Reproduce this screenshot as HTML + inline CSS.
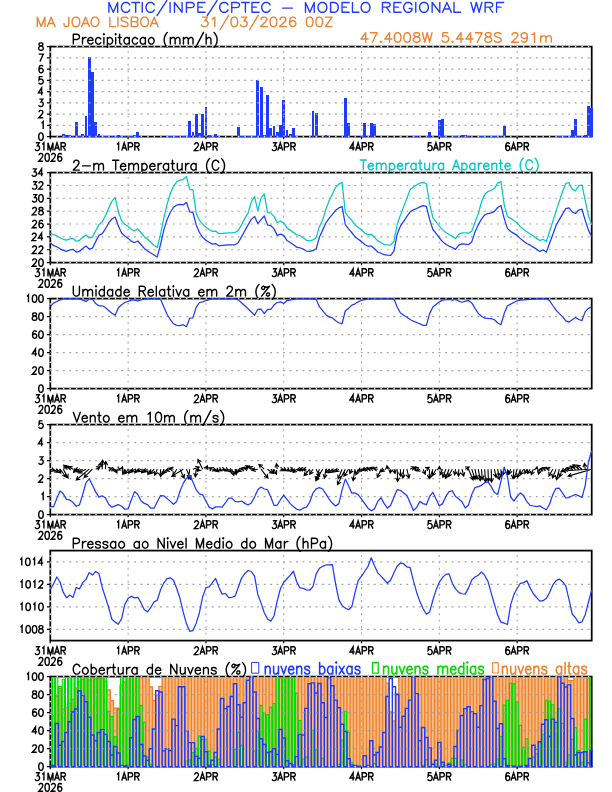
<!DOCTYPE html>
<html><head><meta charset="utf-8"><title>Meteograma WRF</title><style>html,body{margin:0;padding:0;background:#fff;font-family:"Liberation Sans",sans-serif}svg{display:block}</style></head><body><svg width="612" height="792" viewBox="0 0 612 792">
<rect width="612" height="792" fill="#fff"/>
<defs>
<clipPath id="c0"><rect x="49.3" y="45.6" width="543.71" height="92.2"/></clipPath>
<clipPath id="c1"><rect x="49.3" y="171.6" width="543.71" height="92.2"/></clipPath>
<clipPath id="c2"><rect x="49.3" y="297.6" width="543.71" height="92.2"/></clipPath>
<clipPath id="c3"><rect x="49.3" y="423.6" width="543.71" height="92.2"/></clipPath>
<clipPath id="c4"><rect x="49.3" y="549.6" width="543.71" height="92.2"/></clipPath>
<clipPath id="c5"><rect x="49.3" y="675.6" width="543.71" height="92.2"/></clipPath>
<clipPath id="c6"><rect x="51.2" y="677.5" width="539.61" height="89.3"/></clipPath>
</defs>
<g fill="none" stroke-linecap="round" stroke-linejoin="round">
<path d="M108.92 12.3 108.92 2.49 113.29 12.3 117.66 2.49 117.66 12.3M129.67 4.83 129.12 3.89 128.03 2.96 126.94 2.49 124.75 2.49 123.66 2.96 122.57 3.89 122.02 4.83 121.48 6.23 121.48 8.56 122.02 9.96 122.57 10.9 123.66 11.83 124.75 12.3 126.94 12.3 128.03 11.83 129.12 10.9 129.67 9.96M131.85 2.49 139.5 2.49M135.68 12.3 135.68 2.49M142.23 2.49 142.23 12.3M154.24 4.83 153.69 3.89 152.6 2.96 151.51 2.49 149.32 2.49 148.23 2.96 147.14 3.89 146.59 4.83 146.05 6.23 146.05 8.56 146.59 9.96 147.14 10.9 148.23 11.83 149.32 12.3 151.51 12.3 152.6 11.83 153.69 10.9 154.24 9.96M156.97 15.57 166.8 0.62M170.07 2.49 170.07 12.3M174.44 12.3 174.44 2.49 182.08 12.3 182.08 2.49M186.45 12.3 186.45 2.49 191.37 2.49 193 2.96 193.55 3.43 194.1 4.36 194.1 5.76 193.55 6.7 193 7.16 191.37 7.63 186.45 7.63M202.29 7.16 197.92 7.16 197.92 2.49 205.02 2.49M205.02 12.3 197.92 12.3 197.92 7.16M207.2 15.57 217.03 0.62M227.95 4.83 227.4 3.89 226.31 2.96 225.22 2.49 223.03 2.49 221.94 2.96 220.85 3.89 220.31 4.83 219.76 6.23 219.76 8.56 220.31 9.96 220.85 10.9 221.94 11.83 223.03 12.3 225.22 12.3 226.31 11.83 227.4 10.9 227.95 9.96M231.77 12.3 231.77 2.49 236.69 2.49 238.32 2.96 238.87 3.43 239.41 4.36 239.41 5.76 238.87 6.7 238.32 7.16 236.69 7.63 231.77 7.63M241.6 2.49 249.24 2.49M245.42 12.3 245.42 2.49M256.34 7.16 251.97 7.16 251.97 2.49 259.07 2.49M259.07 12.3 251.97 12.3 251.97 7.16M269.99 4.83 269.44 3.89 268.35 2.96 267.26 2.49 265.08 2.49 263.99 2.96 262.89 3.89 262.35 4.83 261.8 6.23 261.8 8.56 262.35 9.96 262.89 10.9 263.99 11.83 265.08 12.3 267.26 12.3 268.35 11.83 269.44 10.9 269.99 9.96M282.55 8.1 292.38 8.1M305.48 12.3 305.48 2.49 309.85 12.3 314.22 2.49 314.22 12.3M318.04 6.23 318.04 8.56 318.59 9.96 319.13 10.9 320.22 11.83 321.31 12.3 323.5 12.3 324.59 11.83 325.68 10.9 326.23 9.96 326.77 8.56 326.77 6.23 326.23 4.83 325.68 3.89 324.59 2.96 323.5 2.49 321.31 2.49 320.22 2.96 319.13 3.89 318.59 4.83 318.04 6.23M330.6 2.49 330.6 12.3 334.42 12.3 336.06 11.83 337.15 10.9 337.7 9.96 338.24 8.56 338.24 6.23 337.7 4.83 337.15 3.89 336.06 2.96 334.42 2.49 330.6 2.49M346.43 7.16 342.06 7.16 342.06 2.49 349.16 2.49M349.16 12.3 342.06 12.3 342.06 7.16M352.44 2.49 352.44 12.3 358.99 12.3M361.17 6.23 361.17 8.56 361.72 9.96 362.26 10.9 363.36 11.83 364.45 12.3 366.63 12.3 367.73 11.83 368.82 10.9 369.36 9.96 369.91 8.56 369.91 6.23 369.36 4.83 368.82 3.89 367.73 2.96 366.63 2.49 364.45 2.49 363.36 2.96 362.26 3.89 361.72 4.83 361.17 6.23M382.47 12.3 382.47 2.49 387.38 2.49 389.02 2.96 389.57 3.43 390.11 4.36 390.11 5.29 389.57 6.23 389.02 6.7 387.38 7.16 382.47 7.16M390.11 12.3 386.29 7.16M398.3 7.16 393.93 7.16 393.93 2.49 401.03 2.49M401.03 12.3 393.93 12.3 393.93 7.16M409.22 8.56 411.95 8.56 411.95 9.96 411.4 10.9 410.31 11.83 409.22 12.3 407.04 12.3 405.95 11.83 404.85 10.9 404.31 9.96 403.76 8.56 403.76 6.23 404.31 4.83 404.85 3.89 405.95 2.96 407.04 2.49 409.22 2.49 410.31 2.96 411.4 3.89 411.95 4.83M415.77 2.49 415.77 12.3M419.6 6.23 419.6 8.56 420.14 9.96 420.69 10.9 421.78 11.83 422.87 12.3 425.06 12.3 426.15 11.83 427.24 10.9 427.78 9.96 428.33 8.56 428.33 6.23 427.78 4.83 427.24 3.89 426.15 2.96 425.06 2.49 422.87 2.49 421.78 2.96 420.69 3.89 420.14 4.83 419.6 6.23M432.15 12.3 432.15 2.49 439.8 12.3 439.8 2.49M442.53 12.3 446.89 2.49 451.26 12.3M444.16 9.03 449.62 9.03M453.99 2.49 453.99 12.3 460.55 12.3M470.92 2.49 473.65 12.3 476.38 2.49 479.11 12.3 481.84 2.49M485.12 12.3 485.12 2.49 490.03 2.49 491.67 2.96 492.21 3.43 492.76 4.36 492.76 5.29 492.21 6.23 491.67 6.7 490.03 7.16 485.12 7.16M492.76 12.3 488.94 7.16M496.58 12.3 496.58 2.49 503.68 2.49M500.95 7.16 496.58 7.16" stroke="#1e3cff" stroke-width="1.4"/>
<path d="M37.3 26.6 37.3 17.15 41.12 26.6 44.93 17.15 44.93 26.6M47.32 26.6 51.13 17.15 54.95 26.6M48.75 23.45 53.52 23.45M64.01 23.45 64.01 24.35 64.49 25.7 64.97 26.15 65.92 26.6 66.87 26.6 67.83 26.15 68.3 25.7 68.78 24.35 68.78 17.15M72.12 20.75 72.12 23 72.6 24.35 73.07 25.25 74.03 26.15 74.98 26.6 76.89 26.6 77.84 26.15 78.8 25.25 79.28 24.35 79.75 23 79.75 20.75 79.28 19.4 78.8 18.5 77.84 17.6 76.89 17.15 74.98 17.15 74.03 17.6 73.07 18.5 72.6 19.4 72.12 20.75M81.66 26.6 85.48 17.15 89.29 26.6M83.09 23.45 87.86 23.45M91.2 20.75 91.2 23 91.68 24.35 92.16 25.25 93.11 26.15 94.06 26.6 95.97 26.6 96.92 26.15 97.88 25.25 98.36 24.35 98.83 23 98.83 20.75 98.36 19.4 97.88 18.5 96.92 17.6 95.97 17.15 94.06 17.15 93.11 17.6 92.16 18.5 91.68 19.4 91.2 20.75M109.8 17.15 109.8 26.6 115.53 26.6M117.91 17.15 117.91 26.6M121.25 25.25 122.21 26.15 123.64 26.6 125.54 26.6 126.98 26.15 127.93 25.25 127.93 23.9 127.45 23 126.98 22.55 126.02 22.1 123.16 21.2 122.21 20.75 121.73 20.3 121.25 19.4 121.25 18.5 122.21 17.6 123.64 17.15 125.54 17.15 126.98 17.6 127.93 18.5M131.27 17.15 131.27 26.6 135.56 26.6 136.99 26.15 137.47 25.7 137.95 24.8 137.95 23.45 137.47 22.55 136.99 22.1 135.56 21.65 131.27 21.65M131.27 17.15 135.56 17.15 136.99 17.6 137.47 18.05 137.95 18.95 137.95 19.85 137.47 20.75 136.99 21.2 135.56 21.65M140.81 20.75 140.81 23 141.29 24.35 141.76 25.25 142.72 26.15 143.67 26.6 145.58 26.6 146.53 26.15 147.49 25.25 147.96 24.35 148.44 23 148.44 20.75 147.96 19.4 147.49 18.5 146.53 17.6 145.58 17.15 143.67 17.15 142.72 17.6 141.76 18.5 141.29 19.4 140.81 20.75M150.35 26.6 154.16 17.15 157.98 26.6M151.78 23.45 156.55 23.45" stroke="#f0822d" stroke-width="1.4"/>
<path d="M201.4 24.8 201.88 25.7 202.35 26.15 203.78 26.6 205.22 26.6 206.65 26.15 207.6 25.25 208.08 23.9 208.08 23 207.6 21.65 207.12 21.2 206.17 20.75 204.74 20.75 207.6 17.15 202.35 17.15M212.37 18.95 213.32 18.5 214.76 17.15 214.76 26.6M220 29.75 228.59 15.35M230.97 21.2 230.97 22.55 231.45 24.8 232.41 26.15 233.84 26.6 234.79 26.6 236.22 26.15 237.17 24.8 237.65 22.55 237.65 21.2 237.17 18.95 236.22 17.6 234.79 17.15 233.84 17.15 232.41 17.6 231.45 18.95 230.97 21.2M240.51 24.8 240.99 25.7 241.47 26.15 242.9 26.6 244.33 26.6 245.76 26.15 246.71 25.25 247.19 23.9 247.19 23 246.71 21.65 246.24 21.2 245.28 20.75 243.85 20.75 246.71 17.15 241.47 17.15M249.58 29.75 258.16 15.35M261.02 19.4 261.02 18.95 261.5 18.05 261.98 17.6 262.93 17.15 264.84 17.15 265.79 17.6 266.27 18.05 266.75 18.95 266.75 19.85 266.27 20.75 265.32 22.1 260.55 26.6 267.23 26.6M270.09 21.2 270.09 22.55 270.56 24.8 271.52 26.15 272.95 26.6 273.9 26.6 275.33 26.15 276.29 24.8 276.77 22.55 276.77 21.2 276.29 18.95 275.33 17.6 273.9 17.15 272.95 17.15 271.52 17.6 270.56 18.95 270.09 21.2M280.11 19.4 280.11 18.95 280.58 18.05 281.06 17.6 282.01 17.15 283.92 17.15 284.88 17.6 285.35 18.05 285.83 18.95 285.83 19.85 285.35 20.75 284.4 22.1 279.63 26.6 286.31 26.6M295.37 18.5 294.89 17.6 293.46 17.15 292.51 17.15 291.08 17.6 290.12 18.95 289.64 21.2 289.64 23.45 290.12 25.25 291.08 26.15 292.51 26.6 292.98 26.6 294.41 26.15 295.37 25.25 295.85 23.9 295.85 23.45 295.37 22.1 294.41 21.2 292.98 20.75 292.51 20.75 291.08 21.2 290.12 22.1 289.64 23.45M306.34 21.2 306.34 22.55 306.82 24.8 307.77 26.15 309.2 26.6 310.16 26.6 311.59 26.15 312.54 24.8 313.02 22.55 313.02 21.2 312.54 18.95 311.59 17.6 310.16 17.15 309.2 17.15 307.77 17.6 306.82 18.95 306.34 21.2M315.88 21.2 315.88 22.55 316.36 24.8 317.31 26.15 318.74 26.6 319.7 26.6 321.13 26.15 322.08 24.8 322.56 22.55 322.56 21.2 322.08 18.95 321.13 17.6 319.7 17.15 318.74 17.15 317.31 17.6 316.36 18.95 315.88 21.2M325.42 17.15 332.1 17.15 325.42 26.6 332.1 26.6" stroke="#f0822d" stroke-width="1.4"/>
<path d="M365.67 42.2 365.67 32.75 360.9 39.05 368.06 39.05M370.44 32.75 377.12 32.75 372.35 42.2M380.46 41.75 380.93 41.3 381.41 41.75 380.93 42.2 380.46 41.75M389.52 42.2 389.52 32.75 384.75 39.05 391.9 39.05M394.29 36.8 394.29 38.15 394.77 40.4 395.72 41.75 397.15 42.2 398.11 42.2 399.54 41.75 400.49 40.4 400.97 38.15 400.97 36.8 400.49 34.55 399.54 33.2 398.11 32.75 397.15 32.75 395.72 33.2 394.77 34.55 394.29 36.8M403.83 36.8 403.83 38.15 404.31 40.4 405.26 41.75 406.69 42.2 407.65 42.2 409.08 41.75 410.03 40.4 410.51 38.15 410.51 36.8 410.03 34.55 409.08 33.2 407.65 32.75 406.69 32.75 405.26 33.2 404.31 34.55 403.83 36.8M413.37 39.05 413.37 40.4 413.85 41.3 414.32 41.75 415.75 42.2 417.66 42.2 419.09 41.75 419.57 41.3 420.05 40.4 420.05 39.05 419.57 38.15 418.62 37.25 417.19 36.8 415.28 36.35 414.32 35.9 413.85 35 413.85 34.1 414.32 33.2 415.75 32.75 417.66 32.75 419.09 33.2 419.57 34.1 419.57 35 419.09 35.9 418.14 36.35 416.23 36.8 414.8 37.25 413.85 38.15 413.37 39.05M422.43 32.75 424.82 42.2 427.2 32.75 429.59 42.2 431.97 32.75M441.99 40.4 442.47 41.3 442.94 41.75 444.38 42.2 445.81 42.2 447.24 41.75 448.19 40.85 448.67 39.5 448.67 38.6 448.19 37.25 447.24 36.35 445.81 35.9 444.38 35.9 442.94 36.35 442.47 36.8 442.94 32.75 447.71 32.75M452.01 41.75 452.48 41.3 452.96 41.75 452.48 42.2 452.01 41.75M461.07 42.2 461.07 32.75 456.3 39.05 463.45 39.05M470.61 42.2 470.61 32.75 465.84 39.05 473 39.05M475.38 32.75 482.06 32.75 477.29 42.2M484.92 39.05 484.92 40.4 485.4 41.3 485.87 41.75 487.31 42.2 489.21 42.2 490.64 41.75 491.12 41.3 491.6 40.4 491.6 39.05 491.12 38.15 490.17 37.25 488.74 36.8 486.83 36.35 485.87 35.9 485.4 35 485.4 34.1 485.87 33.2 487.31 32.75 489.21 32.75 490.64 33.2 491.12 34.1 491.12 35 490.64 35.9 489.69 36.35 487.78 36.8 486.35 37.25 485.4 38.15 484.92 39.05M494.46 40.85 495.41 41.75 496.85 42.2 498.75 42.2 500.18 41.75 501.14 40.85 501.14 39.5 500.66 38.6 500.18 38.15 499.23 37.7 496.37 36.8 495.41 36.35 494.94 35.9 494.46 35 494.46 34.1 495.41 33.2 496.85 32.75 498.75 32.75 500.18 33.2 501.14 34.1M512.11 35 512.11 34.55 512.59 33.65 513.06 33.2 514.02 32.75 515.92 32.75 516.88 33.2 517.36 33.65 517.83 34.55 517.83 35.45 517.36 36.35 516.4 37.7 511.63 42.2 518.31 42.2M521.65 40.85 522.13 41.75 523.56 42.2 524.51 42.2 525.94 41.75 526.9 40.4 527.37 38.15 527.37 35.9 526.9 34.1 525.94 33.2 524.51 32.75 524.03 32.75 522.6 33.2 521.65 34.1 521.17 35.45 521.17 35.9 521.65 37.25 522.6 38.15 524.03 38.6 524.51 38.6 525.94 38.15 526.9 37.25 527.37 35.9M532.14 34.55 533.1 34.1 534.53 32.75 534.53 42.2M540.73 35.9 540.73 42.2M545.98 42.2 545.98 37.7 545.5 36.35 544.54 35.9 543.11 35.9 542.16 36.35 540.73 37.7M551.22 42.2 551.22 37.7 550.75 36.35 549.79 35.9 548.36 35.9 547.41 36.35 545.98 37.7" stroke="#f0822d" stroke-width="1.4"/>
<path d="M73.3 44.1 73.3 34.29 77.23 34.29 78.54 34.76 78.98 35.23 79.42 36.16 79.42 37.56 78.98 38.5 78.54 38.96 77.23 39.43 73.3 39.43M82.48 37.56 82.48 44.1M85.97 37.56 84.66 37.56 83.79 38.03 82.91 38.96 82.48 40.36M92.96 42.7 92.09 43.63 91.22 44.1 89.91 44.1 89.03 43.63 88.16 42.7 87.72 41.3 87.72 40.36 88.16 38.96 89.03 38.03 89.91 37.56 91.22 37.56 92.09 38.03 92.53 38.5 92.96 39.43 92.96 40.36 87.72 40.36M100.83 38.96 99.96 38.03 99.08 37.56 97.77 37.56 96.9 38.03 96.02 38.96 95.59 40.36 95.59 41.3 96.02 42.7 96.9 43.63 97.77 44.1 99.08 44.1 99.96 43.63 100.83 42.7M103.89 37.56 103.89 44.1M103.45 34.29 103.89 33.83 104.33 34.29 103.89 34.76 103.45 34.29M107.39 37.56 107.39 47.37M107.39 38.96 108.26 38.03 109.13 37.56 110.44 37.56 111.32 38.03 112.19 38.96 112.63 40.36 112.63 41.3 112.19 42.7 111.32 43.63 110.44 44.1 109.13 44.1 108.26 43.63 107.39 42.7M115.69 37.56 115.69 44.1M115.25 34.29 115.69 33.83 116.13 34.29 115.69 34.76 115.25 34.29M118.31 37.56 121.37 37.56M119.62 34.29 119.62 42.23 120.06 43.63 120.93 44.1 121.81 44.1M129.24 37.56 129.24 44.1M123.99 40.36 123.99 41.3 124.43 42.7 125.3 43.63 126.18 44.1 127.49 44.1 128.36 43.63 129.24 42.7M123.99 40.36 124.43 38.96 125.3 38.03 126.18 37.56 127.49 37.56 128.36 38.03 129.24 38.96M137.54 38.96 136.66 38.03 135.79 37.56 134.48 37.56 133.61 38.03 132.73 38.96 132.29 40.36 132.29 41.3 132.73 42.7 133.61 43.63 134.48 44.1 135.79 44.1 136.66 43.63 137.54 42.7M145.4 37.56 145.4 44.1M140.16 40.36 140.16 41.3 140.6 42.7 141.47 43.63 142.35 44.1 143.66 44.1 144.53 43.63 145.4 42.7M140.16 40.36 140.6 38.96 141.47 38.03 142.35 37.56 143.66 37.56 144.53 38.03 145.4 38.96M148.46 40.36 148.46 41.3 148.9 42.7 149.77 43.63 150.65 44.1 151.96 44.1 152.83 43.63 153.71 42.7 154.14 41.3 154.14 40.36 153.71 38.96 152.83 38.03 151.96 37.56 150.65 37.56 149.77 38.03 148.9 38.96 148.46 40.36M167.25 32.42 166.38 33.36 165.51 34.76 164.63 36.63 164.2 38.96 164.2 40.83 164.63 43.17 165.51 45.03 166.38 46.44 167.25 47.37M170.31 37.56 170.31 44.1M175.12 44.1 175.12 39.43 174.68 38.03 173.81 37.56 172.5 37.56 171.62 38.03 170.31 39.43M179.93 44.1 179.93 39.43 179.49 38.03 178.62 37.56 177.31 37.56 176.43 38.03 175.12 39.43M183.42 37.56 183.42 44.1M188.23 44.1 188.23 39.43 187.79 38.03 186.92 37.56 185.61 37.56 184.74 38.03 183.42 39.43M193.04 44.1 193.04 39.43 192.6 38.03 191.73 37.56 190.42 37.56 189.54 38.03 188.23 39.43M195.66 47.37 203.53 32.42M206.15 34.29 206.15 44.1M210.95 44.1 210.95 39.43 210.52 38.03 209.64 37.56 208.33 37.56 207.46 38.03 206.15 39.43M214.01 32.42 214.89 33.36 215.76 34.76 216.64 36.63 217.07 38.96 217.07 40.83 216.64 43.17 215.76 45.03 214.89 46.44 214.01 47.37" stroke="#000" stroke-width="1.4"/>
<path d="M73.74 162.63 73.74 162.16 74.17 161.23 74.61 160.76 75.48 160.29 77.23 160.29 78.11 160.76 78.54 161.23 78.98 162.16 78.98 163.09 78.54 164.03 77.67 165.43 73.3 170.1 79.42 170.1M82.48 165.9 90.34 165.9M93.84 163.56 93.84 170.1M98.65 170.1 98.65 165.43 98.21 164.03 97.34 163.56 96.02 163.56 95.15 164.03 93.84 165.43M103.45 170.1 103.45 165.43 103.02 164.03 102.14 163.56 100.83 163.56 99.96 164.03 98.65 165.43M112.63 160.29 118.75 160.29M115.69 170.1 115.69 160.29M125.74 168.7 124.87 169.63 123.99 170.1 122.68 170.1 121.81 169.63 120.93 168.7 120.5 167.3 120.5 166.36 120.93 164.96 121.81 164.03 122.68 163.56 123.99 163.56 124.87 164.03 125.3 164.5 125.74 165.43 125.74 166.36 120.5 166.36M128.8 163.56 128.8 170.1M133.61 170.1 133.61 165.43 133.17 164.03 132.3 163.56 130.98 163.56 130.11 164.03 128.8 165.43M138.41 170.1 138.41 165.43 137.98 164.03 137.1 163.56 135.79 163.56 134.92 164.03 133.61 165.43M141.91 163.56 141.91 173.37M141.91 164.96 142.78 164.03 143.66 163.56 144.97 163.56 145.84 164.03 146.72 164.96 147.15 166.36 147.15 167.3 146.72 168.7 145.84 169.63 144.97 170.1 143.66 170.1 142.78 169.63 141.91 168.7M155.02 168.7 154.15 169.63 153.27 170.1 151.96 170.1 151.09 169.63 150.21 168.7 149.78 167.3 149.78 166.36 150.21 164.96 151.09 164.03 151.96 163.56 153.27 163.56 154.15 164.03 154.58 164.5 155.02 165.43 155.02 166.36 149.78 166.36M158.08 163.56 158.08 170.1M161.57 163.56 160.26 163.56 159.39 164.03 158.51 164.96 158.08 166.36M168.57 163.56 168.57 170.1M163.32 166.36 163.32 167.3 163.76 168.7 164.63 169.63 165.51 170.1 166.82 170.1 167.69 169.63 168.57 168.7M163.32 166.36 163.76 164.96 164.63 164.03 165.51 163.56 166.82 163.56 167.69 164.03 168.57 164.96M171.19 163.56 174.25 163.56M172.5 160.29 172.5 168.23 172.94 169.63 173.81 170.1 174.68 170.1M177.31 163.56 177.31 168.23 177.74 169.63 178.62 170.1 179.93 170.1 180.8 169.63 182.11 168.23 182.11 163.56M182.11 170.1 182.11 168.23M185.61 163.56 185.61 170.1M189.11 163.56 187.79 163.56 186.92 164.03 186.05 164.96 185.61 166.36M196.1 163.56 196.1 170.1M190.85 166.36 190.85 167.3 191.29 168.7 192.16 169.63 193.04 170.1 194.35 170.1 195.22 169.63 196.1 168.7M190.85 166.36 191.29 164.96 192.16 164.03 193.04 163.56 194.35 163.56 195.22 164.03 196.1 164.96M209.64 158.42 208.77 159.36 207.9 160.76 207.02 162.63 206.59 164.96 206.59 166.83 207.02 169.17 207.9 171.03 208.77 172.44 209.64 173.37M218.82 162.63 218.38 161.69 217.51 160.76 216.64 160.29 214.89 160.29 214.01 160.76 213.14 161.69 212.7 162.63 212.27 164.03 212.27 166.36 212.7 167.76 213.14 168.7 214.01 169.63 214.89 170.1 216.64 170.1 217.51 169.63 218.38 168.7 218.82 167.76M221.44 158.42 222.32 159.36 223.19 160.76 224.06 162.63 224.5 164.96 224.5 166.83 224.06 169.17 223.19 171.03 222.32 172.44 221.44 173.37" stroke="#000" stroke-width="1.4"/>
<path d="M73.3 286.29 73.3 293.3 73.74 294.7 74.61 295.63 75.92 296.1 76.8 296.1 78.11 295.63 78.98 294.7 79.42 293.3 79.42 286.29M82.91 289.56 82.91 296.1M87.72 296.1 87.72 291.43 87.28 290.03 86.41 289.56 85.1 289.56 84.22 290.03 82.91 291.43M92.53 296.1 92.53 291.43 92.09 290.03 91.22 289.56 89.91 289.56 89.03 290.03 87.72 291.43M96.02 289.56 96.02 296.1M95.59 286.29 96.02 285.83 96.46 286.29 96.02 286.76 95.59 286.29M104.33 286.29 104.33 296.1M99.08 292.36 99.08 293.3 99.52 294.7 100.39 295.63 101.27 296.1 102.58 296.1 103.45 295.63 104.33 294.7M99.08 292.36 99.52 290.96 100.39 290.03 101.27 289.56 102.58 289.56 103.45 290.03 104.33 290.96M112.63 289.56 112.63 296.1M107.39 292.36 107.39 293.3 107.82 294.7 108.7 295.63 109.57 296.1 110.88 296.1 111.76 295.63 112.63 294.7M107.39 292.36 107.82 290.96 108.7 290.03 109.57 289.56 110.88 289.56 111.76 290.03 112.63 290.96M120.93 286.29 120.93 296.1M115.69 292.36 115.69 293.3 116.13 294.7 117 295.63 117.87 296.1 119.19 296.1 120.06 295.63 120.93 294.7M115.69 292.36 116.13 290.96 117 290.03 117.87 289.56 119.19 289.56 120.06 290.03 120.93 290.96M129.24 294.7 128.36 295.63 127.49 296.1 126.18 296.1 125.3 295.63 124.43 294.7 123.99 293.3 123.99 292.36 124.43 290.96 125.3 290.03 126.18 289.56 127.49 289.56 128.36 290.03 128.8 290.5 129.24 291.43 129.24 292.36 123.99 292.36M139.29 296.1 139.29 286.29 143.22 286.29 144.53 286.76 144.97 287.23 145.4 288.16 145.4 289.1 144.97 290.03 144.53 290.5 143.22 290.96 139.29 290.96M145.4 296.1 142.35 290.96M153.27 294.7 152.4 295.63 151.52 296.1 150.21 296.1 149.34 295.63 148.46 294.7 148.03 293.3 148.03 292.36 148.46 290.96 149.34 290.03 150.21 289.56 151.52 289.56 152.4 290.03 152.83 290.5 153.27 291.43 153.27 292.36 148.03 292.36M156.33 286.29 156.33 296.1M164.63 289.56 164.63 296.1M159.39 292.36 159.39 293.3 159.83 294.7 160.7 295.63 161.57 296.1 162.88 296.1 163.76 295.63 164.63 294.7M159.39 292.36 159.83 290.96 160.7 290.03 161.57 289.56 162.88 289.56 163.76 290.03 164.63 290.96M167.25 289.56 170.31 289.56M168.57 286.29 168.57 294.23 169 295.63 169.88 296.1 170.75 296.1M173.37 289.56 173.37 296.1M172.94 286.29 173.37 285.83 173.81 286.29 173.37 286.76 172.94 286.29M176 289.56 178.62 296.1 181.24 289.56M188.67 289.56 188.67 296.1M183.42 292.36 183.42 293.3 183.86 294.7 184.74 295.63 185.61 296.1 186.92 296.1 187.79 295.63 188.67 294.7M183.42 292.36 183.86 290.96 184.74 290.03 185.61 289.56 186.92 289.56 187.79 290.03 188.67 290.96M203.96 294.7 203.09 295.63 202.22 296.1 200.9 296.1 200.03 295.63 199.16 294.7 198.72 293.3 198.72 292.36 199.16 290.96 200.03 290.03 200.9 289.56 202.22 289.56 203.09 290.03 203.53 290.5 203.96 291.43 203.96 292.36 198.72 292.36M207.02 289.56 207.02 296.1M211.83 296.1 211.83 291.43 211.39 290.03 210.52 289.56 209.21 289.56 208.33 290.03 207.02 291.43M216.64 296.1 216.64 291.43 216.2 290.03 215.32 289.56 214.01 289.56 213.14 290.03 211.83 291.43M227.12 288.63 227.12 288.16 227.56 287.23 228 286.76 228.87 286.29 230.62 286.29 231.49 286.76 231.93 287.23 232.37 288.16 232.37 289.1 231.93 290.03 231.06 291.43 226.69 296.1 232.8 296.1M235.86 289.56 235.86 296.1M240.67 296.1 240.67 291.43 240.23 290.03 239.36 289.56 238.05 289.56 237.17 290.03 235.86 291.43M245.48 296.1 245.48 291.43 245.04 290.03 244.17 289.56 242.86 289.56 241.98 290.03 240.67 291.43M259.02 284.43 258.15 285.36 257.28 286.76 256.4 288.63 255.97 290.96 255.97 292.83 256.4 295.17 257.28 297.03 258.15 298.44 259.02 299.37M261.65 296.1 269.51 286.29 268.64 286.76 267.33 287.23 266.02 287.23 264.71 286.76 263.83 286.29 262.96 286.29 262.08 286.76 261.65 287.69 261.65 288.63 262.52 289.56 263.39 289.56 264.27 289.1 264.71 288.16 264.71 287.23 263.83 286.29M266.45 294.23 266.45 295.17 267.33 296.1 268.2 296.1 269.08 295.63 269.51 294.7 269.51 293.77 268.64 292.83 267.76 292.83 266.89 293.3 266.45 294.23M272.13 284.43 273.01 285.36 273.88 286.76 274.76 288.63 275.19 290.96 275.19 292.83 274.76 295.17 273.88 297.03 273.01 298.44 272.13 299.37" stroke="#000" stroke-width="1.4"/>
<path d="M73.3 412.29 76.8 422.1 80.29 412.29M87.28 420.7 86.41 421.63 85.54 422.1 84.22 422.1 83.35 421.63 82.48 420.7 82.04 419.3 82.04 418.36 82.48 416.96 83.35 416.03 84.22 415.56 85.54 415.56 86.41 416.03 86.85 416.5 87.28 417.43 87.28 418.36 82.04 418.36M90.34 415.56 90.34 422.1M95.15 422.1 95.15 417.43 94.71 416.03 93.84 415.56 92.53 415.56 91.65 416.03 90.34 417.43M97.77 415.56 100.83 415.56M99.08 412.29 99.08 420.23 99.52 421.63 100.39 422.1 101.27 422.1M103.45 418.36 103.45 419.3 103.89 420.7 104.76 421.63 105.64 422.1 106.95 422.1 107.82 421.63 108.7 420.7 109.13 419.3 109.13 418.36 108.7 416.96 107.82 416.03 106.95 415.56 105.64 415.56 104.76 416.03 103.89 416.96 103.45 418.36M123.99 420.7 123.12 421.63 122.24 422.1 120.93 422.1 120.06 421.63 119.19 420.7 118.75 419.3 118.75 418.36 119.19 416.96 120.06 416.03 120.93 415.56 122.24 415.56 123.12 416.03 123.56 416.5 123.99 417.43 123.99 418.36 118.75 418.36M127.05 415.56 127.05 422.1M131.86 422.1 131.86 417.43 131.42 416.03 130.55 415.56 129.24 415.56 128.36 416.03 127.05 417.43M136.66 422.1 136.66 417.43 136.23 416.03 135.35 415.56 134.04 415.56 133.17 416.03 131.86 417.43M148.03 414.16 148.9 413.69 150.21 412.29 150.21 422.1M155.46 416.5 155.46 417.9 155.89 420.23 156.77 421.63 158.08 422.1 158.95 422.1 160.26 421.63 161.14 420.23 161.57 417.9 161.57 416.5 161.14 414.16 160.26 412.76 158.95 412.29 158.08 412.29 156.77 412.76 155.89 414.16 155.46 416.5M164.63 415.56 164.63 422.1M169.44 422.1 169.44 417.43 169 416.03 168.13 415.56 166.82 415.56 165.94 416.03 164.63 417.43M174.25 422.1 174.25 417.43 173.81 416.03 172.94 415.56 171.62 415.56 170.75 416.03 169.44 417.43M187.79 410.43 186.92 411.36 186.05 412.76 185.17 414.63 184.74 416.96 184.74 418.83 185.17 421.17 186.05 423.03 186.92 424.44 187.79 425.37M190.85 415.56 190.85 422.1M195.66 422.1 195.66 417.43 195.22 416.03 194.35 415.56 193.04 415.56 192.16 416.03 190.85 417.43M200.47 422.1 200.47 417.43 200.03 416.03 199.16 415.56 197.84 415.56 196.97 416.03 195.66 417.43M203.09 425.37 210.96 410.43M213.14 420.7 213.58 421.63 214.89 422.1 216.2 422.1 217.51 421.63 217.95 420.7 217.95 420.23 217.51 419.3 216.64 418.83 214.45 418.36 213.58 417.9 213.14 416.96 213.58 416.03 214.89 415.56 216.2 415.56 217.51 416.03 217.95 416.96M220.57 410.43 221.44 411.36 222.32 412.76 223.19 414.63 223.63 416.96 223.63 418.83 223.19 421.17 222.32 423.03 221.44 424.44 220.57 425.37" stroke="#000" stroke-width="1.4"/>
<path d="M73.3 548.1 73.3 538.29 77.23 538.29 78.54 538.76 78.98 539.23 79.42 540.16 79.42 541.56 78.98 542.5 78.54 542.96 77.23 543.43 73.3 543.43M82.48 541.56 82.48 548.1M85.97 541.56 84.66 541.56 83.79 542.03 82.91 542.96 82.48 544.36M92.96 546.7 92.09 547.63 91.22 548.1 89.91 548.1 89.03 547.63 88.16 546.7 87.72 545.3 87.72 544.36 88.16 542.96 89.03 542.03 89.91 541.56 91.22 541.56 92.09 542.03 92.53 542.5 92.96 543.43 92.96 544.36 87.72 544.36M95.59 546.7 96.02 547.63 97.33 548.1 98.65 548.1 99.96 547.63 100.39 546.7 100.39 546.23 99.96 545.3 99.08 544.83 96.9 544.36 96.02 543.9 95.59 542.96 96.02 542.03 97.33 541.56 98.65 541.56 99.96 542.03 100.39 542.96M103.02 546.7 103.45 547.63 104.76 548.1 106.07 548.1 107.39 547.63 107.82 546.7 107.82 546.23 107.39 545.3 106.51 544.83 104.33 544.36 103.45 543.9 103.02 542.96 103.45 542.03 104.76 541.56 106.07 541.56 107.39 542.03 107.82 542.96M115.69 541.56 115.69 548.1M110.44 544.36 110.44 545.3 110.88 546.7 111.76 547.63 112.63 548.1 113.94 548.1 114.81 547.63 115.69 546.7M110.44 544.36 110.88 542.96 111.76 542.03 112.63 541.56 113.94 541.56 114.81 542.03 115.69 542.96M118.75 544.36 118.75 545.3 119.19 546.7 120.06 547.63 120.93 548.1 122.24 548.1 123.12 547.63 123.99 546.7 124.43 545.3 124.43 544.36 123.99 542.96 123.12 542.03 122.24 541.56 120.93 541.56 120.06 542.03 119.19 542.96 118.75 544.36M139.29 541.56 139.29 548.1M134.04 544.36 134.04 545.3 134.48 546.7 135.35 547.63 136.23 548.1 137.54 548.1 138.41 547.63 139.29 546.7M134.04 544.36 134.48 542.96 135.35 542.03 136.23 541.56 137.54 541.56 138.41 542.03 139.29 542.96M142.35 544.36 142.35 545.3 142.78 546.7 143.66 547.63 144.53 548.1 145.84 548.1 146.72 547.63 147.59 546.7 148.03 545.3 148.03 544.36 147.59 542.96 146.72 542.03 145.84 541.56 144.53 541.56 143.66 542.03 142.78 542.96 142.35 544.36M158.08 548.1 158.08 538.29 164.2 548.1 164.2 538.29M167.69 541.56 167.69 548.1M167.25 538.29 167.69 537.83 168.13 538.29 167.69 538.76 167.25 538.29M170.31 541.56 172.94 548.1 175.56 541.56M182.99 546.7 182.11 547.63 181.24 548.1 179.93 548.1 179.05 547.63 178.18 546.7 177.74 545.3 177.74 544.36 178.18 542.96 179.05 542.03 179.93 541.56 181.24 541.56 182.11 542.03 182.55 542.5 182.99 543.43 182.99 544.36 177.74 544.36M186.05 538.29 186.05 548.1M196.53 548.1 196.53 538.29 200.03 548.1 203.53 538.29 203.53 548.1M211.83 546.7 210.95 547.63 210.08 548.1 208.77 548.1 207.9 547.63 207.02 546.7 206.58 545.3 206.58 544.36 207.02 542.96 207.9 542.03 208.77 541.56 210.08 541.56 210.95 542.03 211.39 542.5 211.83 543.43 211.83 544.36 206.58 544.36M219.69 538.29 219.69 548.1M214.45 544.36 214.45 545.3 214.89 546.7 215.76 547.63 216.64 548.1 217.95 548.1 218.82 547.63 219.69 546.7M214.45 544.36 214.89 542.96 215.76 542.03 216.64 541.56 217.95 541.56 218.82 542.03 219.69 542.96M223.19 541.56 223.19 548.1M222.75 538.29 223.19 537.83 223.63 538.29 223.19 538.76 222.75 538.29M226.25 544.36 226.25 545.3 226.69 546.7 227.56 547.63 228.44 548.1 229.75 548.1 230.62 547.63 231.49 546.7 231.93 545.3 231.93 544.36 231.49 542.96 230.62 542.03 229.75 541.56 228.44 541.56 227.56 542.03 226.69 542.96 226.25 544.36M246.79 538.29 246.79 548.1M241.54 544.36 241.54 545.3 241.98 546.7 242.86 547.63 243.73 548.1 245.04 548.1 245.91 547.63 246.79 546.7M241.54 544.36 241.98 542.96 242.86 542.03 243.73 541.56 245.04 541.56 245.91 542.03 246.79 542.96M249.85 544.36 249.85 545.3 250.28 546.7 251.16 547.63 252.03 548.1 253.34 548.1 254.22 547.63 255.09 546.7 255.53 545.3 255.53 544.36 255.09 542.96 254.22 542.03 253.34 541.56 252.03 541.56 251.16 542.03 250.28 542.96 249.85 544.36M265.58 548.1 265.58 538.29 269.08 548.1 272.57 538.29 272.57 548.1M280.88 541.56 280.88 548.1M275.63 544.36 275.63 545.3 276.07 546.7 276.94 547.63 277.82 548.1 279.13 548.1 280 547.63 280.88 546.7M275.63 544.36 276.07 542.96 276.94 542.03 277.82 541.56 279.13 541.56 280 542.03 280.88 542.96M284.37 541.56 284.37 548.1M287.87 541.56 286.56 541.56 285.68 542.03 284.81 542.96 284.37 544.36M300.1 536.43 299.23 537.36 298.36 538.76 297.48 540.63 297.04 542.96 297.04 544.83 297.48 547.17 298.36 549.03 299.23 550.44 300.1 551.37M303.16 538.29 303.16 548.1M307.97 548.1 307.97 543.43 307.53 542.03 306.66 541.56 305.35 541.56 304.47 542.03 303.16 543.43M311.47 548.1 311.47 538.29 315.4 538.29 316.71 538.76 317.15 539.23 317.58 540.16 317.58 541.56 317.15 542.5 316.71 542.96 315.4 543.43 311.47 543.43M325.45 541.56 325.45 548.1M320.2 544.36 320.2 545.3 320.64 546.7 321.52 547.63 322.39 548.1 323.7 548.1 324.57 547.63 325.45 546.7M320.2 544.36 320.64 542.96 321.52 542.03 322.39 541.56 323.7 541.56 324.57 542.03 325.45 542.96M328.51 536.43 329.38 537.36 330.26 538.76 331.13 540.63 331.57 542.96 331.57 544.83 331.13 547.17 330.26 549.03 329.38 550.44 328.51 551.37" stroke="#000" stroke-width="1.4"/>
<path d="M79.86 666.63 79.42 665.69 78.54 664.76 77.67 664.29 75.92 664.29 75.05 664.76 74.17 665.69 73.74 666.63 73.3 668.03 73.3 670.36 73.74 671.76 74.17 672.7 75.05 673.63 75.92 674.1 77.67 674.1 78.54 673.63 79.42 672.7 79.86 671.76M82.48 670.36 82.48 671.3 82.91 672.7 83.79 673.63 84.66 674.1 85.97 674.1 86.85 673.63 87.72 672.7 88.16 671.3 88.16 670.36 87.72 668.96 86.85 668.03 85.97 667.56 84.66 667.56 83.79 668.03 82.91 668.96 82.48 670.36M91.22 664.29 91.22 674.1M91.22 668.96 92.09 668.03 92.97 667.56 94.28 667.56 95.15 668.03 96.02 668.96 96.46 670.36 96.46 671.3 96.02 672.7 95.15 673.63 94.28 674.1 92.97 674.1 92.09 673.63 91.22 672.7M104.33 672.7 103.45 673.63 102.58 674.1 101.27 674.1 100.39 673.63 99.52 672.7 99.08 671.3 99.08 670.36 99.52 668.96 100.39 668.03 101.27 667.56 102.58 667.56 103.45 668.03 103.89 668.5 104.33 669.43 104.33 670.36 99.08 670.36M107.39 667.56 107.39 674.1M110.88 667.56 109.57 667.56 108.7 668.03 107.82 668.96 107.39 670.36M112.19 667.56 115.25 667.56M113.5 664.29 113.5 672.23 113.94 673.63 114.81 674.1 115.69 674.1M118.31 667.56 118.31 672.23 118.75 673.63 119.62 674.1 120.93 674.1 121.81 673.63 123.12 672.23 123.12 667.56M123.12 674.1 123.12 672.23M126.61 667.56 126.61 674.1M130.11 667.56 128.8 667.56 127.93 668.03 127.05 668.96 126.61 670.36M137.1 667.56 137.1 674.1M131.86 670.36 131.86 671.3 132.3 672.7 133.17 673.63 134.04 674.1 135.35 674.1 136.23 673.63 137.1 672.7M131.86 670.36 132.3 668.96 133.17 668.03 134.04 667.56 135.35 667.56 136.23 668.03 137.1 668.96M152.4 664.29 152.4 674.1M147.15 670.36 147.15 671.3 147.59 672.7 148.46 673.63 149.34 674.1 150.65 674.1 151.52 673.63 152.4 672.7M147.15 670.36 147.59 668.96 148.46 668.03 149.34 667.56 150.65 667.56 151.52 668.03 152.4 668.96M160.7 672.7 159.83 673.63 158.95 674.1 157.64 674.1 156.77 673.63 155.89 672.7 155.46 671.3 155.46 670.36 155.89 668.96 156.77 668.03 157.64 667.56 158.95 667.56 159.83 668.03 160.26 668.5 160.7 669.43 160.7 670.36 155.46 670.36M170.75 674.1 170.75 664.29 176.87 674.1 176.87 664.29M180.37 667.56 180.37 672.23 180.8 673.63 181.68 674.1 182.99 674.1 183.86 673.63 185.17 672.23 185.17 667.56M185.17 674.1 185.17 672.23M187.79 667.56 190.42 674.1 193.04 667.56M200.47 672.7 199.59 673.63 198.72 674.1 197.41 674.1 196.53 673.63 195.66 672.7 195.22 671.3 195.22 670.36 195.66 668.96 196.53 668.03 197.41 667.56 198.72 667.56 199.59 668.03 200.03 668.5 200.47 669.43 200.47 670.36 195.22 670.36M203.53 667.56 203.53 674.1M208.33 674.1 208.33 669.43 207.9 668.03 207.02 667.56 205.71 667.56 204.84 668.03 203.53 669.43M211.39 672.7 211.83 673.63 213.14 674.1 214.45 674.1 215.76 673.63 216.2 672.7 216.2 672.23 215.76 671.3 214.89 670.83 212.7 670.36 211.83 669.9 211.39 668.96 211.83 668.03 213.14 667.56 214.45 667.56 215.76 668.03 216.2 668.96M229.31 662.43 228.44 663.36 227.56 664.76 226.69 666.63 226.25 668.96 226.25 670.83 226.69 673.17 227.56 675.03 228.44 676.44 229.31 677.37M231.93 674.1 239.8 664.29 238.92 664.76 237.61 665.23 236.3 665.23 234.99 664.76 234.12 664.29 233.24 664.29 232.37 664.76 231.93 665.69 231.93 666.63 232.81 667.56 233.68 667.56 234.55 667.1 234.99 666.16 234.99 665.23 234.12 664.29M236.74 672.23 236.74 673.17 237.61 674.1 238.49 674.1 239.36 673.63 239.8 672.7 239.8 671.76 238.92 670.83 238.05 670.83 237.18 671.3 236.74 672.23M242.42 662.43 243.29 663.36 244.17 664.76 245.04 666.63 245.48 668.96 245.48 670.83 245.04 673.17 244.17 675.03 243.29 676.44 242.42 677.37" stroke="#000" stroke-width="1.4"/>
<path d="M360.3 159.99 366.4 159.99M363.35 169.8 363.35 159.99M373.37 168.4 372.5 169.33 371.63 169.8 370.32 169.8 369.45 169.33 368.58 168.4 368.14 167 368.14 166.06 368.58 164.66 369.45 163.73 370.32 163.26 371.63 163.26 372.5 163.73 372.94 164.2 373.37 165.13 373.37 166.06 368.14 166.06M376.42 163.26 376.42 169.8M381.21 169.8 381.21 165.13 380.78 163.73 379.91 163.26 378.6 163.26 377.73 163.73 376.42 165.13M386.01 169.8 386.01 165.13 385.57 163.73 384.7 163.26 383.39 163.26 382.52 163.73 381.21 165.13M389.49 163.26 389.49 173.07M389.49 164.66 390.36 163.73 391.23 163.26 392.54 163.26 393.41 163.73 394.28 164.66 394.72 166.06 394.72 167 394.28 168.4 393.41 169.33 392.54 169.8 391.23 169.8 390.36 169.33 389.49 168.4M402.56 168.4 401.69 169.33 400.82 169.8 399.51 169.8 398.64 169.33 397.77 168.4 397.33 167 397.33 166.06 397.77 164.66 398.64 163.73 399.51 163.26 400.82 163.26 401.69 163.73 402.13 164.2 402.56 165.13 402.56 166.06 397.33 166.06M405.61 163.26 405.61 169.8M409.1 163.26 407.79 163.26 406.92 163.73 406.05 164.66 405.61 166.06M416.07 163.26 416.07 169.8M410.84 166.06 410.84 167 411.28 168.4 412.15 169.33 413.02 169.8 414.33 169.8 415.2 169.33 416.07 168.4M410.84 166.06 411.28 164.66 412.15 163.73 413.02 163.26 414.33 163.26 415.2 163.73 416.07 164.66M418.68 163.26 421.73 163.26M419.99 159.99 419.99 167.93 420.43 169.33 421.3 169.8 422.17 169.8M424.78 163.26 424.78 167.93 425.22 169.33 426.09 169.8 427.4 169.8 428.27 169.33 429.58 167.93 429.58 163.26M429.58 169.8 429.58 167.93M433.06 163.26 433.06 169.8M436.55 163.26 435.24 163.26 434.37 163.73 433.5 164.66 433.06 166.06M443.52 163.26 443.52 169.8M438.29 166.06 438.29 167 438.73 168.4 439.6 169.33 440.47 169.8 441.78 169.8 442.65 169.33 443.52 168.4M438.29 166.06 438.73 164.66 439.6 163.73 440.47 163.26 441.78 163.26 442.65 163.73 443.52 164.66M452.67 169.8 456.15 159.99 459.64 169.8M453.98 166.53 458.33 166.53M461.82 163.26 461.82 173.07M461.82 164.66 462.69 163.73 463.56 163.26 464.87 163.26 465.74 163.73 466.61 164.66 467.05 166.06 467.05 167 466.61 168.4 465.74 169.33 464.87 169.8 463.56 169.8 462.69 169.33 461.82 168.4M474.89 163.26 474.89 169.8M469.66 166.06 469.66 167 470.1 168.4 470.97 169.33 471.84 169.8 473.15 169.8 474.02 169.33 474.89 168.4M469.66 166.06 470.1 164.66 470.97 163.73 471.84 163.26 473.15 163.26 474.02 163.73 474.89 164.66M478.37 163.26 478.37 169.8M481.86 163.26 480.55 163.26 479.68 163.73 478.81 164.66 478.37 166.06M488.83 168.4 487.96 169.33 487.09 169.8 485.78 169.8 484.91 169.33 484.04 168.4 483.6 167 483.6 166.06 484.04 164.66 484.91 163.73 485.78 163.26 487.09 163.26 487.96 163.73 488.4 164.2 488.83 165.13 488.83 166.06 483.6 166.06M491.88 163.26 491.88 169.8M496.67 169.8 496.67 165.13 496.24 163.73 495.37 163.26 494.06 163.26 493.19 163.73 491.88 165.13M499.29 163.26 502.34 163.26M500.6 159.99 500.6 167.93 501.03 169.33 501.9 169.8 502.77 169.8M510.18 168.4 509.31 169.33 508.44 169.8 507.13 169.8 506.26 169.33 505.39 168.4 504.95 167 504.95 166.06 505.39 164.66 506.26 163.73 507.13 163.26 508.44 163.26 509.31 163.73 509.75 164.2 510.18 165.13 510.18 166.06 504.95 166.06M523.25 158.12 522.38 159.06 521.51 160.46 520.64 162.33 520.2 164.66 520.2 166.53 520.64 168.87 521.51 170.73 522.38 172.13 523.25 173.07M532.4 162.33 531.97 161.39 531.09 160.46 530.22 159.99 528.48 159.99 527.61 160.46 526.74 161.39 526.3 162.33 525.87 163.73 525.87 166.06 526.3 167.46 526.74 168.4 527.61 169.33 528.48 169.8 530.22 169.8 531.09 169.33 531.97 168.4 532.4 167.46M535.02 158.12 535.89 159.06 536.76 160.46 537.63 162.33 538.07 164.66 538.07 166.53 537.63 168.87 536.76 170.73 535.89 172.13 535.02 173.07" stroke="#00c8c8" stroke-width="1.4"/>
</g>
<rect x="50.3" y="46.6" width="541.41" height="90" fill="none" stroke="#000" stroke-width="1.75"/>
<path d="M62 137V134H65V137ZM65 137V135H68V137ZM68 137V135H71V137ZM72 137V136H74V137ZM75 137V122H78V137ZM78 137V136H81V137ZM81 137V134H84V137ZM85 137V116H87V137ZM88 137V57H91V137ZM91 137V72H94V137ZM94 137V122H97V137ZM98 137V134H100V137ZM101 137V136H104V137ZM104 137V136H107V137ZM107 137V136H110V137ZM111 137V136H113V137ZM114 137V136H117V137ZM117 137V135H120V137ZM120 137V136H123V137ZM124 137V136H126V137ZM127 137V136H130V137ZM130 137V136H133V137ZM133 137V135H136V137ZM136 137V132H139V137ZM166 137V136H169V137ZM169 137V136H172V137ZM172 137V136H175V137ZM175 137V136H178V137ZM179 137V136H181V137ZM182 137V136H185V137ZM185 137V136H188V137ZM188 137V121H191V137ZM192 137V132H194V137ZM195 137V114H198V137ZM198 137V133H201V137ZM201 137V114H204V137ZM205 137V107H207V137ZM208 137V135H211V137ZM211 137V136H214V137ZM214 137V134H217V137ZM237 137V127H240V137ZM240 137V136H243V137ZM243 137V136H246V137ZM247 137V136H250V137ZM250 137V136H253V137ZM253 137V136H256V137ZM256 137V80H259V137ZM260 137V87H263V137ZM263 137V135H266V137ZM266 137V95H269V137ZM269 137V128H272V137ZM273 137V126H275V137ZM276 137V132H279V137ZM279 137V125H282V137ZM282 137V100H285V137ZM286 137V130H288V137ZM289 137V134H292V137ZM292 137V128H295V137ZM295 137V136H298V137ZM312 137V111H314V137ZM315 137V113H318V137ZM321 137V136H324V137ZM325 137V135H327V137ZM344 137V98H347V137ZM347 137V123H350V137ZM360 137V136H363V137ZM363 137V123H366V137ZM370 137V123H373V137ZM373 137V124H376V137ZM399 137V136H402V137ZM412 137V136H415V137ZM415 137V136H418V137ZM428 137V132H431V137ZM438 137V120H441V137ZM441 137V119H444V137ZM444 137V136H447V137ZM451 137V136H454V137ZM454 137V136H457V137ZM457 137V136H460V137ZM461 137V135H464V137ZM464 137V135H467V137ZM467 137V136H470V137ZM477 137V136H480V137ZM480 137V136H483V137ZM483 137V136H486V137ZM487 137V136H489V137ZM490 137V136H493V137ZM493 137V136H496V137ZM496 137V136H499V137ZM500 137V136H502V137ZM503 137V126H506V137ZM555 137V136H558V137ZM558 137V136H561V137ZM561 137V136H564V137ZM564 137V136H567V137ZM568 137V136H571V137ZM571 137V130H574V137ZM574 137V119H577V137ZM577 137V136H580V137ZM581 137V136H583V137ZM584 137V135H587V137ZM587 137V106H590V137ZM590 137V108H593V137Z" fill="#1e3cff" shape-rendering="crispEdges"/>
<path d="M49.85 125.35H591.71M49.85 114.1H591.71M49.85 102.85H591.71M49.85 91.6H591.71M49.85 80.35H591.71M49.85 69.1H591.71M49.85 57.85H591.71M128.11 137.05V46.6M205.92 137.05V46.6M283.72 137.05V46.6M361.53 137.05V46.6M439.34 137.05V46.6M517.15 137.05V46.6" stroke="#a4a4a4" stroke-width="1.05" stroke-dasharray="1.9 4.58" fill="none"/>
<path d="M56.43 136.6H590.71M56.43 46.6H590.71M50.3 130.47V47.6" stroke="#d4d4d4" stroke-width="1.9" stroke-dasharray="1.5 4.98" fill="none"/>
<g fill="none">
<path d="M46.9 136.6H50.3M46.9 125.35H50.3M46.9 114.1H50.3M46.9 102.85H50.3M46.9 91.6H50.3M46.9 80.35H50.3M46.9 69.1H50.3M46.9 57.85H50.3M46.9 46.6H50.3M50.3 136.6V139.3M128.11 136.6V139.3M205.92 136.6V139.3M283.72 136.6V139.3M361.53 136.6V139.3M439.34 136.6V139.3M517.15 136.6V139.3" stroke="#000" stroke-width="1.2" fill="none"/>
<path d="M38.72 136.08 38.72 137.13 39.04 138.89 39.68 139.95 40.64 140.3 41.28 140.3 42.24 139.95 42.88 138.89 43.2 137.13 43.2 136.08 42.88 134.32 42.24 133.26 41.28 132.91 40.64 132.91 39.68 133.26 39.04 134.32 38.72 136.08" stroke="#000" stroke-width="1.4"/>
<path d="M41.6 123.07 42.24 122.71 43.2 121.66 43.2 129.05" stroke="#000" stroke-width="1.4"/>
<path d="M39.04 112.17 39.04 111.82 39.36 111.11 39.68 110.76 40.32 110.41 41.6 110.41 42.24 110.76 42.56 111.11 42.88 111.82 42.88 112.52 42.56 113.22 41.92 114.28 38.72 117.8 43.2 117.8" stroke="#000" stroke-width="1.4"/>
<path d="M38.72 105.14 39.04 105.85 39.36 106.2 40.32 106.55 41.28 106.55 42.24 106.2 42.88 105.49 43.2 104.44 43.2 103.73 42.88 102.68 42.56 102.33 41.92 101.97 40.96 101.97 42.88 99.16 39.36 99.16" stroke="#000" stroke-width="1.4"/>
<path d="M41.6 95.3 41.6 87.91 38.4 92.84 43.2 92.84" stroke="#000" stroke-width="1.4"/>
<path d="M38.72 82.64 39.04 83.35 39.36 83.7 40.32 84.05 41.28 84.05 42.24 83.7 42.88 82.99 43.2 81.94 43.2 81.23 42.88 80.18 42.24 79.47 41.28 79.12 40.32 79.12 39.36 79.47 39.04 79.83 39.36 76.66 42.56 76.66" stroke="#000" stroke-width="1.4"/>
<path d="M42.88 66.46 42.56 65.76 41.6 65.41 40.96 65.41 40 65.76 39.36 66.82 39.04 68.58 39.04 70.34 39.36 71.74 40 72.45 40.96 72.8 41.28 72.8 42.24 72.45 42.88 71.74 43.2 70.69 43.2 70.34 42.88 69.28 42.24 68.58 41.28 68.22 40.96 68.22 40 68.58 39.36 69.28 39.04 70.34" stroke="#000" stroke-width="1.4"/>
<path d="M38.72 54.16 43.2 54.16 40 61.55" stroke="#000" stroke-width="1.4"/>
<path d="M38.72 47.84 38.72 48.89 39.04 49.6 39.36 49.95 40.32 50.3 41.6 50.3 42.56 49.95 42.88 49.6 43.2 48.89 43.2 47.84 42.88 47.13 42.24 46.43 41.28 46.08 40 45.72 39.36 45.37 39.04 44.67 39.04 43.96 39.36 43.26 40.32 42.91 41.6 42.91 42.56 43.26 42.88 43.96 42.88 44.67 42.56 45.37 41.92 45.72 40.64 46.08 39.68 46.43 39.04 47.13 38.72 47.84" stroke="#000" stroke-width="1.4"/>
<path d="M35.17 149.12 35.48 149.86 35.79 150.23 36.73 150.6 37.66 150.6 38.6 150.23 39.22 149.49 39.54 148.37 39.54 147.63 39.22 146.52 38.91 146.15 38.29 145.78 37.35 145.78 39.22 142.81 35.79 142.81M42.34 144.29 42.97 143.92 43.9 142.81 43.9 150.6M47.96 150.6 47.96 142.81 50.46 150.6 52.95 142.81 52.95 150.6M54.51 150.6 57.01 142.81 59.5 150.6M55.45 148 58.57 148M61.06 150.6 61.06 142.81 63.87 142.81 64.81 143.18 65.12 143.55 65.43 144.29 65.43 145.03 65.12 145.78 64.81 146.15 63.87 146.52 61.06 146.52M65.43 150.6 63.25 146.52" stroke="#000" stroke-width="1.4"/>
<path d="M117.03 144.29 117.66 143.92 118.59 142.81 118.59 150.6M121.71 150.6 124.21 142.81 126.7 150.6M122.65 148 125.77 148M128.26 150.6 128.26 142.81 131.07 142.81 132.01 143.18 132.32 143.55 132.63 144.29 132.63 145.41 132.32 146.15 132.01 146.52 131.07 146.89 128.26 146.89M134.82 150.6 134.82 142.81 137.62 142.81 138.56 143.18 138.87 143.55 139.18 144.29 139.18 145.03 138.87 145.78 138.56 146.15 137.62 146.52 134.82 146.52M139.18 150.6 137 146.52" stroke="#000" stroke-width="1.4"/>
<path d="M194.68 144.66 194.68 144.29 195 143.55 195.31 143.18 195.93 142.81 197.18 142.81 197.8 143.18 198.12 143.55 198.43 144.29 198.43 145.03 198.12 145.78 197.49 146.89 194.37 150.6 198.74 150.6M199.99 150.6 202.48 142.81 204.98 150.6M200.92 148 204.04 148M206.54 150.6 206.54 142.81 209.35 142.81 210.28 143.18 210.6 143.55 210.91 144.29 210.91 145.41 210.6 146.15 210.28 146.52 209.35 146.89 206.54 146.89M213.09 150.6 213.09 142.81 215.9 142.81 216.84 143.18 217.15 143.55 217.46 144.29 217.46 145.03 217.15 145.78 216.84 146.15 215.9 146.52 213.09 146.52M217.46 150.6 215.28 146.52" stroke="#000" stroke-width="1.4"/>
<path d="M272.18 149.12 272.49 149.86 272.8 150.23 273.74 150.6 274.68 150.6 275.61 150.23 276.24 149.49 276.55 148.37 276.55 147.63 276.24 146.52 275.92 146.15 275.3 145.78 274.36 145.78 276.24 142.81 272.8 142.81M277.8 150.6 280.29 142.81 282.79 150.6M278.73 148 281.85 148M284.35 150.6 284.35 142.81 287.16 142.81 288.09 143.18 288.4 143.55 288.72 144.29 288.72 145.41 288.4 146.15 288.09 146.52 287.16 146.89 284.35 146.89M290.9 150.6 290.9 142.81 293.71 142.81 294.64 143.18 294.96 143.55 295.27 144.29 295.27 145.03 294.96 145.78 294.64 146.15 293.71 146.52 290.9 146.52M295.27 150.6 293.08 146.52" stroke="#000" stroke-width="1.4"/>
<path d="M353.11 150.6 353.11 142.81 349.99 148 354.67 148M355.6 150.6 358.1 142.81 360.6 150.6M356.54 148 359.66 148M362.16 150.6 362.16 142.81 364.96 142.81 365.9 143.18 366.21 143.55 366.52 144.29 366.52 145.41 366.21 146.15 365.9 146.52 364.96 146.89 362.16 146.89M368.71 150.6 368.71 142.81 371.52 142.81 372.45 143.18 372.76 143.55 373.08 144.29 373.08 145.03 372.76 145.78 372.45 146.15 371.52 146.52 368.71 146.52M373.08 150.6 370.89 146.52" stroke="#000" stroke-width="1.4"/>
<path d="M427.8 149.12 428.11 149.86 428.42 150.23 429.36 150.6 430.29 150.6 431.23 150.23 431.85 149.49 432.16 148.37 432.16 147.63 431.85 146.52 431.23 145.78 430.29 145.41 429.36 145.41 428.42 145.78 428.11 146.15 428.42 142.81 431.54 142.81M433.41 150.6 435.91 142.81 438.4 150.6M434.35 148 437.47 148M439.96 150.6 439.96 142.81 442.77 142.81 443.71 143.18 444.02 143.55 444.33 144.29 444.33 145.41 444.02 146.15 443.71 146.52 442.77 146.89 439.96 146.89M446.52 150.6 446.52 142.81 449.32 142.81 450.26 143.18 450.57 143.55 450.88 144.29 450.88 145.03 450.57 145.78 450.26 146.15 449.32 146.52 446.52 146.52M450.88 150.6 448.7 146.52" stroke="#000" stroke-width="1.4"/>
<path d="M509.5 143.92 509.19 143.18 508.26 142.81 507.63 142.81 506.7 143.18 506.07 144.29 505.76 146.15 505.76 148 506.07 149.49 506.7 150.23 507.63 150.6 507.94 150.6 508.88 150.23 509.5 149.49 509.82 148.37 509.82 148 509.5 146.89 508.88 146.15 507.94 145.78 507.63 145.78 506.7 146.15 506.07 146.89 505.76 148M511.06 150.6 513.56 142.81 516.06 150.6M512 148 515.12 148M517.62 150.6 517.62 142.81 520.42 142.81 521.36 143.18 521.67 143.55 521.98 144.29 521.98 145.41 521.67 146.15 521.36 146.52 520.42 146.89 517.62 146.89M524.17 150.6 524.17 142.81 526.98 142.81 527.91 143.18 528.22 143.55 528.54 144.29 528.54 145.03 528.22 145.78 527.91 146.15 526.98 146.52 524.17 146.52M528.54 150.6 526.35 146.52" stroke="#000" stroke-width="1.4"/>
<path d="M39.07 155.36 39.07 154.99 39.38 154.25 39.69 153.88 40.32 153.51 41.56 153.51 42.19 153.88 42.5 154.25 42.81 154.99 42.81 155.73 42.5 156.48 41.88 157.59 38.76 161.3 43.12 161.3M45 156.85 45 157.96 45.31 159.82 45.93 160.93 46.87 161.3 47.49 161.3 48.43 160.93 49.05 159.82 49.36 157.96 49.36 156.85 49.05 154.99 48.43 153.88 47.49 153.51 46.87 153.51 45.93 153.88 45.31 154.99 45 156.85M51.55 155.36 51.55 154.99 51.86 154.25 52.17 153.88 52.8 153.51 54.04 153.51 54.67 153.88 54.98 154.25 55.29 154.99 55.29 155.73 54.98 156.48 54.36 157.59 51.24 161.3 55.6 161.3M61.53 154.62 61.22 153.88 60.28 153.51 59.66 153.51 58.72 153.88 58.1 154.99 57.79 156.85 57.79 158.7 58.1 160.19 58.72 160.93 59.66 161.3 59.97 161.3 60.91 160.93 61.53 160.19 61.84 159.07 61.84 158.7 61.53 157.59 60.91 156.85 59.97 156.48 59.66 156.48 58.72 156.85 58.1 157.59 57.79 158.7" stroke="#000" stroke-width="1.4"/>
</g>
<rect x="50.3" y="172.6" width="541.41" height="90" fill="none" stroke="#000" stroke-width="1.75"/>
<path d="M49.85 249.74H591.71M49.85 236.89H591.71M49.85 224.03H591.71M49.85 211.17H591.71M49.85 198.31H591.71M49.85 185.46H591.71M128.11 263.05V172.6M205.92 263.05V172.6M283.72 263.05V172.6M361.53 263.05V172.6M439.34 263.05V172.6M517.15 263.05V172.6" stroke="#a4a4a4" stroke-width="1.05" stroke-dasharray="1.9 4.58" fill="none"/>
<path d="M56.43 262.6H590.71M56.43 172.6H590.71M50.3 256.47V173.6" stroke="#d4d4d4" stroke-width="1.9" stroke-dasharray="1.5 4.98" fill="none"/>
<g fill="none" stroke-width="1.25" stroke-linejoin="round" clip-path="url(#c1)">
<polyline points="50.3,242.81 53.54,245.56 56.78,246.73 60.03,248.82 63.27,250.39 66.51,251.31 69.75,250 72.99,249.35 76.24,252.09 79.48,251.31 82.72,248.43 85.96,246.08 89.2,249.08 92.45,248.17 95.69,241.63 98.93,235.36 102.17,233.66 105.41,228.82 108.66,222.94 111.9,219.02 115.14,217.06 118.38,225.95 121.62,233.01 124.87,236.01 128.11,238.37 131.35,241.24 134.59,242.55 137.83,240.98 141.08,244.77 144.32,248.43 147.56,251.05 150.8,253.01 154.04,254.97 157.29,256.93 160.53,244.51 163.77,230.13 167.01,219.67 170.25,212.48 173.5,207.25 176.74,205.03 179.98,204.38 183.22,204.9 186.46,202.29 189.71,211.83 192.95,212.48 196.19,224.9 199.43,232.48 202.67,237.32 205.92,240.33 209.16,242.29 212.4,244.12 215.64,243.59 218.88,245.82 222.13,245.42 225.37,245.16 228.61,244.9 231.85,244.77 235.09,244.77 238.34,242.55 241.58,236.67 244.82,230.78 248.06,224.9 251.3,219.41 254.55,216.41 257.79,223.59 261.03,219.67 264.27,216.01 267.51,224.9 270.76,225.56 274,228.82 277.24,235.36 280.48,234.05 283.72,235.36 286.97,240.59 290.21,242.55 293.45,244.77 296.69,247.12 299.93,247.78 303.18,249.08 306.42,251.05 309.66,251.44 312.9,250.65 316.14,248.82 319.39,237.32 322.63,230.13 325.87,222.94 329.11,218.37 332.35,214.44 335.6,210.26 338.84,207.91 342.08,206.6 345.32,224.51 348.56,228.82 351.81,232.75 355.05,236.67 358.29,239.28 361.53,241.63 364.77,244.51 368.02,246.21 371.26,246.08 374.5,248.69 377.74,251.96 380.98,253.27 384.23,254.71 387.47,255.23 390.71,255.36 393.95,251.05 397.19,234.05 400.44,226.21 403.68,221.37 406.92,216.41 410.16,211.83 413.4,209.87 416.65,208.56 419.89,206.86 423.13,205.56 426.37,206.34 429.61,219.35 432.86,229.48 436.1,233.4 439.34,237.97 442.58,241.63 445.82,244.25 449.07,246.08 452.31,247.52 455.55,249.35 458.79,245.16 462.03,243.86 465.28,244.12 468.52,244.51 471.76,241.9 475,232.09 478.24,224.9 481.49,219.02 484.73,214.84 487.97,213.53 491.21,212.88 494.45,211.44 497.7,207.52 500.94,205.56 504.18,218.37 507.42,228.37 510.66,231.44 513.91,233.4 517.15,235.36 520.39,238.63 523.63,241.24 526.87,243.46 530.12,245.16 533.36,247.12 536.6,249.35 539.84,251.44 543.08,250 546.33,252.09 549.57,243.2 552.81,234.44 556.05,225.56 559.29,219.67 562.54,214.18 565.78,208.56 569.02,207.91 572.26,211.83 575.5,213.53 578.75,210.13 581.99,209.22 585.23,220.33 588.47,230.13 591.71,236.67" stroke="#1e3cff"/>
<polyline points="50.3,233.14 53.54,234.71 56.78,235.75 60.03,237.71 63.27,239.28 66.51,240.2 69.75,238.89 72.99,238.24 76.24,241.24 79.48,240.33 82.72,237.32 85.96,234.97 89.2,237.97 92.45,237.06 95.69,230.78 98.93,224.64 102.17,222.03 105.41,215.75 108.66,208.3 111.9,201.37 115.14,197.45 118.38,211.83 121.62,220.72 124.87,224.25 128.11,226.47 131.35,229.48 134.59,230.78 137.83,228.82 141.08,232.75 144.32,236.67 147.56,239.28 150.8,242.29 154.04,245.16 157.29,247.52 160.53,234.05 163.77,218.37 167.01,204.64 170.25,193.53 173.5,186.34 176.74,181.76 179.98,180.07 183.22,179.54 186.46,176.54 189.71,189.35 192.95,189.87 196.19,213.14 199.43,220.33 202.67,223.86 205.92,227.25 209.16,229.48 212.4,231.44 215.64,231.05 218.88,233.66 222.13,233.4 225.37,233.01 228.61,232.75 231.85,232.75 235.09,232.48 238.34,230.39 241.58,224.9 244.82,218.37 248.06,213.14 251.3,202.03 254.55,196.54 257.79,210.52 261.03,198.1 264.27,193.79 267.51,212.48 270.76,213.14 274,216.41 277.24,222.68 280.48,220.98 283.72,222.94 286.97,227.91 290.21,230.13 293.45,232.48 296.69,234.97 299.93,235.75 303.18,237.71 306.42,240.33 309.66,240.98 312.9,239.93 316.14,237.58 319.39,226.6 322.63,220.33 325.87,209.22 329.11,200.72 332.35,194.18 335.6,187.39 338.84,184.12 342.08,182.42 345.32,212.48 348.56,217.06 351.81,220.33 355.05,224.9 358.29,227.52 361.53,229.87 364.77,233.01 368.02,234.71 371.26,234.31 374.5,237.32 377.74,240.85 380.98,242.55 384.23,244.51 387.47,244.9 390.71,245.16 393.95,241.24 397.19,224.25 400.44,215.1 403.68,206.6 406.92,198.1 410.16,189.61 413.4,186.99 416.65,185.03 419.89,183.07 423.13,182.42 426.37,183.73 429.61,203.99 432.86,217.71 436.1,221.9 439.34,226.21 442.58,229.87 445.82,232.48 449.07,234.44 452.31,236.27 455.55,238.63 458.79,234.05 462.03,232.75 465.28,232.75 468.52,233.14 471.76,231.18 475,222.29 478.24,213.79 481.49,202.03 484.73,194.18 487.97,191.57 491.21,190.26 494.45,188.3 497.7,183.07 500.94,181.5 504.18,204.64 507.42,216.41 510.66,218.37 513.91,220.59 517.15,222.94 520.39,226.6 523.63,229.48 526.87,231.83 530.12,234.05 533.36,236.01 536.6,238.37 539.84,240.59 543.08,239.28 546.33,241.5 549.57,231.44 552.81,221.37 556.05,211.18 559.29,201.37 562.54,191.57 565.78,183.46 569.02,182.68 572.26,189.35 575.5,190.92 578.75,185.69 581.99,185.03 585.23,200.72 588.47,215.75 591.71,224.9" stroke="#00c8c8"/>
</g>
<g fill="none">
<path d="M46.9 262.6H50.3M46.9 249.74H50.3M46.9 236.89H50.3M46.9 224.03H50.3M46.9 211.17H50.3M46.9 198.31H50.3M46.9 185.46H50.3M46.9 172.6H50.3M50.3 262.6V265.3M128.11 262.6V265.3M205.92 262.6V265.3M283.72 262.6V265.3M361.53 262.6V265.3M439.34 262.6V265.3M517.15 262.6V265.3" stroke="#000" stroke-width="1.2" fill="none"/>
<path d="M32.64 260.67 32.64 260.32 32.96 259.61 33.28 259.26 33.92 258.91 35.2 258.91 35.84 259.26 36.16 259.61 36.48 260.32 36.48 261.02 36.16 261.72 35.52 262.78 32.32 266.3 36.8 266.3M38.72 262.08 38.72 263.13 39.04 264.89 39.68 265.95 40.64 266.3 41.28 266.3 42.24 265.95 42.88 264.89 43.2 263.13 43.2 262.08 42.88 260.32 42.24 259.26 41.28 258.91 40.64 258.91 39.68 259.26 39.04 260.32 38.72 262.08" stroke="#000" stroke-width="1.4"/>
<path d="M32.64 247.81 32.64 247.46 32.96 246.75 33.28 246.4 33.92 246.05 35.2 246.05 35.84 246.4 36.16 246.75 36.48 247.46 36.48 248.16 36.16 248.87 35.52 249.92 32.32 253.44 36.8 253.44M39.04 247.81 39.04 247.46 39.36 246.75 39.68 246.4 40.32 246.05 41.6 246.05 42.24 246.4 42.56 246.75 42.88 247.46 42.88 248.16 42.56 248.87 41.92 249.92 38.72 253.44 43.2 253.44" stroke="#000" stroke-width="1.4"/>
<path d="M32.32 234.95 32.32 234.6 32.64 233.9 32.96 233.55 33.6 233.19 34.88 233.19 35.52 233.55 35.84 233.9 36.16 234.6 36.16 235.31 35.84 236.01 35.2 237.07 32 240.59 36.48 240.59M41.6 240.59 41.6 233.19 38.4 238.12 43.2 238.12" stroke="#000" stroke-width="1.4"/>
<path d="M32.64 222.1 32.64 221.74 32.96 221.04 33.28 220.69 33.92 220.34 35.2 220.34 35.84 220.69 36.16 221.04 36.48 221.74 36.48 222.45 36.16 223.15 35.52 224.21 32.32 227.73 36.8 227.73M42.88 221.39 42.56 220.69 41.6 220.34 40.96 220.34 40 220.69 39.36 221.74 39.04 223.5 39.04 225.26 39.36 226.67 40 227.38 40.96 227.73 41.28 227.73 42.24 227.38 42.88 226.67 43.2 225.62 43.2 225.26 42.88 224.21 42.24 223.5 41.28 223.15 40.96 223.15 40 223.5 39.36 224.21 39.04 225.26" stroke="#000" stroke-width="1.4"/>
<path d="M32.64 209.24 32.64 208.89 32.96 208.18 33.28 207.83 33.92 207.48 35.2 207.48 35.84 207.83 36.16 208.18 36.48 208.89 36.48 209.59 36.16 210.3 35.52 211.35 32.32 214.87 36.8 214.87M38.72 212.41 38.72 213.46 39.04 214.17 39.36 214.52 40.32 214.87 41.6 214.87 42.56 214.52 42.88 214.17 43.2 213.46 43.2 212.41 42.88 211.7 42.24 211 41.28 210.65 40 210.3 39.36 209.94 39.04 209.24 39.04 208.54 39.36 207.83 40.32 207.48 41.6 207.48 42.56 207.83 42.88 208.54 42.88 209.24 42.56 209.94 41.92 210.3 40.64 210.65 39.68 211 39.04 211.7 38.72 212.41" stroke="#000" stroke-width="1.4"/>
<path d="M32.32 200.61 32.64 201.31 32.96 201.66 33.92 202.01 34.88 202.01 35.84 201.66 36.48 200.96 36.8 199.9 36.8 199.2 36.48 198.14 36.16 197.79 35.52 197.44 34.56 197.44 36.48 194.62 32.96 194.62M38.72 197.79 38.72 198.85 39.04 200.61 39.68 201.66 40.64 202.01 41.28 202.01 42.24 201.66 42.88 200.61 43.2 198.85 43.2 197.79 42.88 196.03 42.24 194.97 41.28 194.62 40.64 194.62 39.68 194.97 39.04 196.03 38.72 197.79" stroke="#000" stroke-width="1.4"/>
<path d="M32.32 187.75 32.64 188.45 32.96 188.81 33.92 189.16 34.88 189.16 35.84 188.81 36.48 188.1 36.8 187.05 36.8 186.34 36.48 185.29 36.16 184.93 35.52 184.58 34.56 184.58 36.48 181.77 32.96 181.77M39.04 183.53 39.04 183.17 39.36 182.47 39.68 182.12 40.32 181.77 41.6 181.77 42.24 182.12 42.56 182.47 42.88 183.17 42.88 183.88 42.56 184.58 41.92 185.64 38.72 189.16 43.2 189.16" stroke="#000" stroke-width="1.4"/>
<path d="M32 174.89 32.32 175.6 32.64 175.95 33.6 176.3 34.56 176.3 35.52 175.95 36.16 175.24 36.48 174.19 36.48 173.48 36.16 172.43 35.84 172.08 35.2 171.72 34.24 171.72 36.16 168.91 32.64 168.91M41.6 176.3 41.6 168.91 38.4 173.84 43.2 173.84" stroke="#000" stroke-width="1.4"/>
<path d="M35.17 275.12 35.48 275.86 35.79 276.23 36.73 276.6 37.66 276.6 38.6 276.23 39.22 275.49 39.54 274.37 39.54 273.63 39.22 272.52 38.91 272.15 38.29 271.78 37.35 271.78 39.22 268.81 35.79 268.81M42.34 270.29 42.97 269.92 43.9 268.81 43.9 276.6M47.96 276.6 47.96 268.81 50.46 276.6 52.95 268.81 52.95 276.6M54.51 276.6 57.01 268.81 59.5 276.6M55.45 274 58.57 274M61.06 276.6 61.06 268.81 63.87 268.81 64.81 269.18 65.12 269.55 65.43 270.29 65.43 271.04 65.12 271.78 64.81 272.15 63.87 272.52 61.06 272.52M65.43 276.6 63.25 272.52" stroke="#000" stroke-width="1.4"/>
<path d="M117.03 270.29 117.66 269.92 118.59 268.81 118.59 276.6M121.71 276.6 124.21 268.81 126.7 276.6M122.65 274 125.77 274M128.26 276.6 128.26 268.81 131.07 268.81 132.01 269.18 132.32 269.55 132.63 270.29 132.63 271.41 132.32 272.15 132.01 272.52 131.07 272.89 128.26 272.89M134.82 276.6 134.82 268.81 137.62 268.81 138.56 269.18 138.87 269.55 139.18 270.29 139.18 271.04 138.87 271.78 138.56 272.15 137.62 272.52 134.82 272.52M139.18 276.6 137 272.52" stroke="#000" stroke-width="1.4"/>
<path d="M194.68 270.66 194.68 270.29 195 269.55 195.31 269.18 195.93 268.81 197.18 268.81 197.8 269.18 198.12 269.55 198.43 270.29 198.43 271.04 198.12 271.78 197.49 272.89 194.37 276.6 198.74 276.6M199.99 276.6 202.48 268.81 204.98 276.6M200.92 274 204.04 274M206.54 276.6 206.54 268.81 209.35 268.81 210.28 269.18 210.6 269.55 210.91 270.29 210.91 271.41 210.6 272.15 210.28 272.52 209.35 272.89 206.54 272.89M213.09 276.6 213.09 268.81 215.9 268.81 216.84 269.18 217.15 269.55 217.46 270.29 217.46 271.04 217.15 271.78 216.84 272.15 215.9 272.52 213.09 272.52M217.46 276.6 215.28 272.52" stroke="#000" stroke-width="1.4"/>
<path d="M272.18 275.12 272.49 275.86 272.8 276.23 273.74 276.6 274.68 276.6 275.61 276.23 276.24 275.49 276.55 274.37 276.55 273.63 276.24 272.52 275.92 272.15 275.3 271.78 274.36 271.78 276.24 268.81 272.8 268.81M277.8 276.6 280.29 268.81 282.79 276.6M278.73 274 281.85 274M284.35 276.6 284.35 268.81 287.16 268.81 288.09 269.18 288.4 269.55 288.72 270.29 288.72 271.41 288.4 272.15 288.09 272.52 287.16 272.89 284.35 272.89M290.9 276.6 290.9 268.81 293.71 268.81 294.64 269.18 294.96 269.55 295.27 270.29 295.27 271.04 294.96 271.78 294.64 272.15 293.71 272.52 290.9 272.52M295.27 276.6 293.08 272.52" stroke="#000" stroke-width="1.4"/>
<path d="M353.11 276.6 353.11 268.81 349.99 274 354.67 274M355.6 276.6 358.1 268.81 360.6 276.6M356.54 274 359.66 274M362.16 276.6 362.16 268.81 364.96 268.81 365.9 269.18 366.21 269.55 366.52 270.29 366.52 271.41 366.21 272.15 365.9 272.52 364.96 272.89 362.16 272.89M368.71 276.6 368.71 268.81 371.52 268.81 372.45 269.18 372.76 269.55 373.08 270.29 373.08 271.04 372.76 271.78 372.45 272.15 371.52 272.52 368.71 272.52M373.08 276.6 370.89 272.52" stroke="#000" stroke-width="1.4"/>
<path d="M427.8 275.12 428.11 275.86 428.42 276.23 429.36 276.6 430.29 276.6 431.23 276.23 431.85 275.49 432.16 274.37 432.16 273.63 431.85 272.52 431.23 271.78 430.29 271.41 429.36 271.41 428.42 271.78 428.11 272.15 428.42 268.81 431.54 268.81M433.41 276.6 435.91 268.81 438.4 276.6M434.35 274 437.47 274M439.96 276.6 439.96 268.81 442.77 268.81 443.71 269.18 444.02 269.55 444.33 270.29 444.33 271.41 444.02 272.15 443.71 272.52 442.77 272.89 439.96 272.89M446.52 276.6 446.52 268.81 449.32 268.81 450.26 269.18 450.57 269.55 450.88 270.29 450.88 271.04 450.57 271.78 450.26 272.15 449.32 272.52 446.52 272.52M450.88 276.6 448.7 272.52" stroke="#000" stroke-width="1.4"/>
<path d="M509.5 269.92 509.19 269.18 508.26 268.81 507.63 268.81 506.7 269.18 506.07 270.29 505.76 272.15 505.76 274 506.07 275.49 506.7 276.23 507.63 276.6 507.94 276.6 508.88 276.23 509.5 275.49 509.82 274.37 509.82 274 509.5 272.89 508.88 272.15 507.94 271.78 507.63 271.78 506.7 272.15 506.07 272.89 505.76 274M511.06 276.6 513.56 268.81 516.06 276.6M512 274 515.12 274M517.62 276.6 517.62 268.81 520.42 268.81 521.36 269.18 521.67 269.55 521.98 270.29 521.98 271.41 521.67 272.15 521.36 272.52 520.42 272.89 517.62 272.89M524.17 276.6 524.17 268.81 526.98 268.81 527.91 269.18 528.22 269.55 528.54 270.29 528.54 271.04 528.22 271.78 527.91 272.15 526.98 272.52 524.17 272.52M528.54 276.6 526.35 272.52" stroke="#000" stroke-width="1.4"/>
<path d="M39.07 281.36 39.07 280.99 39.38 280.25 39.69 279.88 40.32 279.51 41.56 279.51 42.19 279.88 42.5 280.25 42.81 280.99 42.81 281.74 42.5 282.48 41.88 283.59 38.76 287.3 43.12 287.3M45 282.85 45 283.96 45.31 285.82 45.93 286.93 46.87 287.3 47.49 287.3 48.43 286.93 49.05 285.82 49.36 283.96 49.36 282.85 49.05 280.99 48.43 279.88 47.49 279.51 46.87 279.51 45.93 279.88 45.31 280.99 45 282.85M51.55 281.36 51.55 280.99 51.86 280.25 52.17 279.88 52.8 279.51 54.04 279.51 54.67 279.88 54.98 280.25 55.29 280.99 55.29 281.74 54.98 282.48 54.36 283.59 51.24 287.3 55.6 287.3M61.53 280.62 61.22 279.88 60.28 279.51 59.66 279.51 58.72 279.88 58.1 280.99 57.79 282.85 57.79 284.7 58.1 286.19 58.72 286.93 59.66 287.3 59.97 287.3 60.91 286.93 61.53 286.19 61.84 285.07 61.84 284.7 61.53 283.59 60.91 282.85 59.97 282.48 59.66 282.48 58.72 282.85 58.1 283.59 57.79 284.7" stroke="#000" stroke-width="1.4"/>
</g>
<rect x="50.3" y="298.6" width="541.41" height="90" fill="none" stroke="#000" stroke-width="1.75"/>
<path d="M49.85 370.6H591.71M49.85 352.6H591.71M49.85 334.6H591.71M49.85 316.6H591.71M128.11 389.05V298.6M205.92 389.05V298.6M283.72 389.05V298.6M361.53 389.05V298.6M439.34 389.05V298.6M517.15 389.05V298.6" stroke="#a4a4a4" stroke-width="1.05" stroke-dasharray="1.9 4.58" fill="none"/>
<path d="M56.43 388.6H590.71M56.43 298.6H590.71M50.3 382.47V299.6" stroke="#d4d4d4" stroke-width="1.9" stroke-dasharray="1.5 4.98" fill="none"/>
<g fill="none" stroke-width="1.25" stroke-linejoin="round" clip-path="url(#c2)">
<polyline points="50.3,306.68 53.54,303.15 56.78,301.45 60.03,299.88 63.27,298.84 66.51,298.84 69.75,298.84 72.99,298.84 76.24,298.84 79.48,298.84 82.72,300.14 85.96,301.45 89.2,299.23 92.45,299.23 95.69,303.54 98.93,305.76 102.17,305.76 105.41,307.46 108.66,310.6 111.9,313.22 115.14,315.31 118.38,307.73 121.62,304.72 124.87,302.5 128.11,301.45 131.35,300.14 134.59,300.14 137.83,300.8 141.08,299.88 144.32,299.23 147.56,298.97 150.8,298.84 154.04,298.84 157.29,298.84 160.53,299.23 163.77,306.68 167.01,314.26 170.25,319.49 173.5,323.8 176.74,325.37 179.98,325.63 183.22,324.72 186.46,326.68 189.71,318.18 192.95,317.92 196.19,307.07 199.43,302.5 202.67,301.84 205.92,300.54 209.16,299.62 212.4,298.97 215.64,298.84 218.88,298.84 222.13,298.84 225.37,298.84 228.61,298.84 231.85,298.84 235.09,298.84 238.34,299.88 241.58,302.76 244.82,305.76 248.06,308.77 251.3,312.04 254.55,315.31 257.79,309.29 261.03,309.03 264.27,313.61 267.51,309.42 270.76,309.29 274,305.11 277.24,302.5 280.48,301.84 283.72,303.54 286.97,300.54 290.21,300.14 293.45,299.49 296.69,298.97 299.93,298.84 303.18,298.84 306.42,298.84 309.66,298.84 312.9,298.84 316.14,299.23 319.39,306.68 322.63,310.6 325.87,314.65 329.11,316.88 332.35,317.79 335.6,320.8 338.84,322.76 342.08,323.8 345.32,310.73 348.56,308.38 351.81,305.11 355.05,303.8 358.29,301.84 361.53,300.27 364.77,299.62 368.02,299.23 371.26,298.97 374.5,298.84 377.74,298.84 380.98,298.84 384.23,298.84 387.47,298.84 390.71,298.84 393.95,298.97 397.19,307.07 400.44,312.95 403.68,315.18 406.92,317.27 410.16,319.49 413.4,321.19 416.65,322.5 419.89,323.8 423.13,325.37 426.37,325.37 429.61,313.61 432.86,307.07 436.1,304.46 439.34,301.84 442.58,300.14 445.82,299.62 449.07,299.49 452.31,300.14 455.55,299.49 458.79,301.19 462.03,302.24 465.28,301.19 468.52,300.54 471.76,302.89 475,308.38 478.24,313.35 481.49,316.22 484.73,318.18 487.97,318.44 491.21,318.58 494.45,319.75 497.7,323.02 500.94,324.72 504.18,313.61 507.42,305.76 517.15,300.8 520.39,300.14 523.63,299.88 526.87,299.62 530.12,299.49 533.36,299.23 536.6,298.97 539.84,298.84 543.08,298.84 546.33,298.84 549.57,300.54 552.81,305.5 556.05,310.08 559.29,313.61 562.54,316.61 565.78,320.8 569.02,322.1 572.26,319.75 575.5,317.53 578.75,319.49 581.99,320.54 585.23,311.65 588.47,308.38 591.71,306.68" stroke="#1e3cff"/>
</g>
<g fill="none">
<path d="M46.9 388.6H50.3M46.9 370.6H50.3M46.9 352.6H50.3M46.9 334.6H50.3M46.9 316.6H50.3M46.9 298.6H50.3M50.3 388.6V391.3M128.11 388.6V391.3M205.92 388.6V391.3M283.72 388.6V391.3M361.53 388.6V391.3M439.34 388.6V391.3M517.15 388.6V391.3" stroke="#000" stroke-width="1.2" fill="none"/>
<path d="M38.72 388.08 38.72 389.13 39.04 390.89 39.68 391.95 40.64 392.3 41.28 392.3 42.24 391.95 42.88 390.89 43.2 389.13 43.2 388.08 42.88 386.32 42.24 385.26 41.28 384.91 40.64 384.91 39.68 385.26 39.04 386.32 38.72 388.08" stroke="#000" stroke-width="1.4"/>
<path d="M32.64 368.67 32.64 368.32 32.96 367.61 33.28 367.26 33.92 366.91 35.2 366.91 35.84 367.26 36.16 367.61 36.48 368.32 36.48 369.02 36.16 369.72 35.52 370.78 32.32 374.3 36.8 374.3M38.72 370.08 38.72 371.13 39.04 372.89 39.68 373.95 40.64 374.3 41.28 374.3 42.24 373.95 42.88 372.89 43.2 371.13 43.2 370.08 42.88 368.32 42.24 367.26 41.28 366.91 40.64 366.91 39.68 367.26 39.04 368.32 38.72 370.08" stroke="#000" stroke-width="1.4"/>
<path d="M35.52 356.3 35.52 348.91 32.32 353.84 37.12 353.84M38.72 352.08 38.72 353.13 39.04 354.89 39.68 355.95 40.64 356.3 41.28 356.3 42.24 355.95 42.88 354.89 43.2 353.13 43.2 352.08 42.88 350.32 42.24 349.26 41.28 348.91 40.64 348.91 39.68 349.26 39.04 350.32 38.72 352.08" stroke="#000" stroke-width="1.4"/>
<path d="M36.48 331.96 36.16 331.26 35.2 330.91 34.56 330.91 33.6 331.26 32.96 332.32 32.64 334.08 32.64 335.84 32.96 337.24 33.6 337.95 34.56 338.3 34.88 338.3 35.84 337.95 36.48 337.24 36.8 336.19 36.8 335.84 36.48 334.78 35.84 334.08 34.88 333.72 34.56 333.72 33.6 334.08 32.96 334.78 32.64 335.84M38.72 334.08 38.72 335.13 39.04 336.89 39.68 337.95 40.64 338.3 41.28 338.3 42.24 337.95 42.88 336.89 43.2 335.13 43.2 334.08 42.88 332.32 42.24 331.26 41.28 330.91 40.64 330.91 39.68 331.26 39.04 332.32 38.72 334.08" stroke="#000" stroke-width="1.4"/>
<path d="M32.32 317.84 32.32 318.89 32.64 319.6 32.96 319.95 33.92 320.3 35.2 320.3 36.16 319.95 36.48 319.6 36.8 318.89 36.8 317.84 36.48 317.13 35.84 316.43 34.88 316.08 33.6 315.72 32.96 315.37 32.64 314.67 32.64 313.96 32.96 313.26 33.92 312.91 35.2 312.91 36.16 313.26 36.48 313.96 36.48 314.67 36.16 315.37 35.52 315.72 34.24 316.08 33.28 316.43 32.64 317.13 32.32 317.84M38.72 316.08 38.72 317.13 39.04 318.89 39.68 319.95 40.64 320.3 41.28 320.3 42.24 319.95 42.88 318.89 43.2 317.13 43.2 316.08 42.88 314.32 42.24 313.26 41.28 312.91 40.64 312.91 39.68 313.26 39.04 314.32 38.72 316.08" stroke="#000" stroke-width="1.4"/>
<path d="M26.88 296.32 27.52 295.96 28.48 294.91 28.48 302.3M32.32 298.08 32.32 299.13 32.64 300.89 33.28 301.95 34.24 302.3 34.88 302.3 35.84 301.95 36.48 300.89 36.8 299.13 36.8 298.08 36.48 296.32 35.84 295.26 34.88 294.91 34.24 294.91 33.28 295.26 32.64 296.32 32.32 298.08M38.72 298.08 38.72 299.13 39.04 300.89 39.68 301.95 40.64 302.3 41.28 302.3 42.24 301.95 42.88 300.89 43.2 299.13 43.2 298.08 42.88 296.32 42.24 295.26 41.28 294.91 40.64 294.91 39.68 295.26 39.04 296.32 38.72 298.08" stroke="#000" stroke-width="1.4"/>
<path d="M35.17 401.12 35.48 401.86 35.79 402.23 36.73 402.6 37.66 402.6 38.6 402.23 39.22 401.49 39.54 400.37 39.54 399.63 39.22 398.52 38.91 398.15 38.29 397.78 37.35 397.78 39.22 394.81 35.79 394.81M42.34 396.29 42.97 395.92 43.9 394.81 43.9 402.6M47.96 402.6 47.96 394.81 50.46 402.6 52.95 394.81 52.95 402.6M54.51 402.6 57.01 394.81 59.5 402.6M55.45 400 58.57 400M61.06 402.6 61.06 394.81 63.87 394.81 64.81 395.18 65.12 395.55 65.43 396.29 65.43 397.04 65.12 397.78 64.81 398.15 63.87 398.52 61.06 398.52M65.43 402.6 63.25 398.52" stroke="#000" stroke-width="1.4"/>
<path d="M117.03 396.29 117.66 395.92 118.59 394.81 118.59 402.6M121.71 402.6 124.21 394.81 126.7 402.6M122.65 400 125.77 400M128.26 402.6 128.26 394.81 131.07 394.81 132.01 395.18 132.32 395.55 132.63 396.29 132.63 397.41 132.32 398.15 132.01 398.52 131.07 398.89 128.26 398.89M134.82 402.6 134.82 394.81 137.62 394.81 138.56 395.18 138.87 395.55 139.18 396.29 139.18 397.04 138.87 397.78 138.56 398.15 137.62 398.52 134.82 398.52M139.18 402.6 137 398.52" stroke="#000" stroke-width="1.4"/>
<path d="M194.68 396.66 194.68 396.29 195 395.55 195.31 395.18 195.93 394.81 197.18 394.81 197.8 395.18 198.12 395.55 198.43 396.29 198.43 397.04 198.12 397.78 197.49 398.89 194.37 402.6 198.74 402.6M199.99 402.6 202.48 394.81 204.98 402.6M200.92 400 204.04 400M206.54 402.6 206.54 394.81 209.35 394.81 210.28 395.18 210.6 395.55 210.91 396.29 210.91 397.41 210.6 398.15 210.28 398.52 209.35 398.89 206.54 398.89M213.09 402.6 213.09 394.81 215.9 394.81 216.84 395.18 217.15 395.55 217.46 396.29 217.46 397.04 217.15 397.78 216.84 398.15 215.9 398.52 213.09 398.52M217.46 402.6 215.28 398.52" stroke="#000" stroke-width="1.4"/>
<path d="M272.18 401.12 272.49 401.86 272.8 402.23 273.74 402.6 274.68 402.6 275.61 402.23 276.24 401.49 276.55 400.37 276.55 399.63 276.24 398.52 275.92 398.15 275.3 397.78 274.36 397.78 276.24 394.81 272.8 394.81M277.8 402.6 280.29 394.81 282.79 402.6M278.73 400 281.85 400M284.35 402.6 284.35 394.81 287.16 394.81 288.09 395.18 288.4 395.55 288.72 396.29 288.72 397.41 288.4 398.15 288.09 398.52 287.16 398.89 284.35 398.89M290.9 402.6 290.9 394.81 293.71 394.81 294.64 395.18 294.96 395.55 295.27 396.29 295.27 397.04 294.96 397.78 294.64 398.15 293.71 398.52 290.9 398.52M295.27 402.6 293.08 398.52" stroke="#000" stroke-width="1.4"/>
<path d="M353.11 402.6 353.11 394.81 349.99 400 354.67 400M355.6 402.6 358.1 394.81 360.6 402.6M356.54 400 359.66 400M362.16 402.6 362.16 394.81 364.96 394.81 365.9 395.18 366.21 395.55 366.52 396.29 366.52 397.41 366.21 398.15 365.9 398.52 364.96 398.89 362.16 398.89M368.71 402.6 368.71 394.81 371.52 394.81 372.45 395.18 372.76 395.55 373.08 396.29 373.08 397.04 372.76 397.78 372.45 398.15 371.52 398.52 368.71 398.52M373.08 402.6 370.89 398.52" stroke="#000" stroke-width="1.4"/>
<path d="M427.8 401.12 428.11 401.86 428.42 402.23 429.36 402.6 430.29 402.6 431.23 402.23 431.85 401.49 432.16 400.37 432.16 399.63 431.85 398.52 431.23 397.78 430.29 397.41 429.36 397.41 428.42 397.78 428.11 398.15 428.42 394.81 431.54 394.81M433.41 402.6 435.91 394.81 438.4 402.6M434.35 400 437.47 400M439.96 402.6 439.96 394.81 442.77 394.81 443.71 395.18 444.02 395.55 444.33 396.29 444.33 397.41 444.02 398.15 443.71 398.52 442.77 398.89 439.96 398.89M446.52 402.6 446.52 394.81 449.32 394.81 450.26 395.18 450.57 395.55 450.88 396.29 450.88 397.04 450.57 397.78 450.26 398.15 449.32 398.52 446.52 398.52M450.88 402.6 448.7 398.52" stroke="#000" stroke-width="1.4"/>
<path d="M509.5 395.92 509.19 395.18 508.26 394.81 507.63 394.81 506.7 395.18 506.07 396.29 505.76 398.15 505.76 400 506.07 401.49 506.7 402.23 507.63 402.6 507.94 402.6 508.88 402.23 509.5 401.49 509.82 400.37 509.82 400 509.5 398.89 508.88 398.15 507.94 397.78 507.63 397.78 506.7 398.15 506.07 398.89 505.76 400M511.06 402.6 513.56 394.81 516.06 402.6M512 400 515.12 400M517.62 402.6 517.62 394.81 520.42 394.81 521.36 395.18 521.67 395.55 521.98 396.29 521.98 397.41 521.67 398.15 521.36 398.52 520.42 398.89 517.62 398.89M524.17 402.6 524.17 394.81 526.98 394.81 527.91 395.18 528.22 395.55 528.54 396.29 528.54 397.04 528.22 397.78 527.91 398.15 526.98 398.52 524.17 398.52M528.54 402.6 526.35 398.52" stroke="#000" stroke-width="1.4"/>
<path d="M39.07 407.36 39.07 406.99 39.38 406.25 39.69 405.88 40.32 405.51 41.56 405.51 42.19 405.88 42.5 406.25 42.81 406.99 42.81 407.74 42.5 408.48 41.88 409.59 38.76 413.3 43.12 413.3M45 408.85 45 409.96 45.31 411.82 45.93 412.93 46.87 413.3 47.49 413.3 48.43 412.93 49.05 411.82 49.36 409.96 49.36 408.85 49.05 406.99 48.43 405.88 47.49 405.51 46.87 405.51 45.93 405.88 45.31 406.99 45 408.85M51.55 407.36 51.55 406.99 51.86 406.25 52.17 405.88 52.8 405.51 54.04 405.51 54.67 405.88 54.98 406.25 55.29 406.99 55.29 407.74 54.98 408.48 54.36 409.59 51.24 413.3 55.6 413.3M61.53 406.62 61.22 405.88 60.28 405.51 59.66 405.51 58.72 405.88 58.1 406.99 57.79 408.85 57.79 410.7 58.1 412.19 58.72 412.93 59.66 413.3 59.97 413.3 60.91 412.93 61.53 412.19 61.84 411.07 61.84 410.7 61.53 409.59 60.91 408.85 59.97 408.48 59.66 408.48 58.72 408.85 58.1 409.59 57.79 410.7" stroke="#000" stroke-width="1.4"/>
</g>
<rect x="50.3" y="424.6" width="541.41" height="90" fill="none" stroke="#000" stroke-width="1.75"/>
<path d="M49.85 496.6H591.71M49.85 478.6H591.71M49.85 460.6H591.71M49.85 442.6H591.71M128.11 515.05V424.6M205.92 515.05V424.6M283.72 515.05V424.6M361.53 515.05V424.6M439.34 515.05V424.6M517.15 515.05V424.6" stroke="#a4a4a4" stroke-width="1.05" stroke-dasharray="1.9 4.58" fill="none"/>
<path d="M56.43 514.6H590.71M56.43 424.6H590.71M50.3 508.47V425.6" stroke="#d4d4d4" stroke-width="1.9" stroke-dasharray="1.5 4.98" fill="none"/>
<g fill="none" stroke-width="1.25" stroke-linejoin="round" clip-path="url(#c3)">
<path d="M50.3 469.2L54.8 470.6M51.9 467.56L54.8 470.6L50.69 471.45M53.54 469.2L58.04 472.4M56.23 468.61L58.04 472.4L53.87 471.93M56.78 469.2L60.88 472.9M59.52 468.93L60.88 472.9L56.79 471.95M60.03 469.2L66.03 477M65.4 472.85L66.03 477L62.17 475.33M63.27 469.2L68.07 477.9M68.08 473.7L68.07 477.9L64.51 475.67M66.51 469.2L63.81 465.1M64.13 469.29L63.81 465.1L67.53 467.05M69.75 469.2L66.05 465.5M67.21 469.54L66.05 465.5L70.09 466.66M72.99 469.2L68.39 466.5M70.53 470.12L68.39 466.5L72.59 466.6M76.24 469.2L73.54 472.4M77.46 470.91L73.54 472.4L74.35 468.28M79.48 469.2L74.48 470.1M78.45 471.45L74.48 470.1L77.73 467.45M82.72 469.2L77.22 471.9M81.41 472.11L77.22 471.9L79.62 468.45M85.96 469.2L78.66 472.9M82.86 473.06L78.66 472.9L81.02 469.42M89.2 469.2L76.3 480M80.43 479.2L76.3 480L77.81 476.08M92.45 469.2L84.15 477.4M88.19 476.27L84.15 477.4L85.33 473.37M95.69 469.2L100.09 466.9M95.89 466.8L100.09 466.9L97.78 470.41M98.93 469.2L100.93 462.7M97.9 465.61L100.93 462.7L101.8 466.81M102.17 469.2L102.67 460.1M100.44 463.66L102.67 460.1L104.5 463.88M105.41 469.2L105.81 461.4M103.59 464.96L105.81 461.4L107.66 465.17M108.66 469.2L111.86 468.3M107.77 467.33L111.86 468.3L108.87 471.25M111.9 469.2L115.1 470.1M112.11 467.15L115.1 470.1L111.01 471.07M115.14 469.2L116.94 472.9M117.16 468.71L116.94 472.9L113.5 470.49M118.38 469.2L120.18 470.1M117.81 466.64L120.18 470.1L115.99 470.28M121.62 469.2L122.52 466.9M119.29 469.58L122.52 466.9L123.08 471.06M124.87 469.2L122.87 474.4M126.09 471.7L122.87 474.4L122.28 470.24M128.11 469.2L125.11 473.8M128.82 471.84L125.11 473.8L125.41 469.61M131.35 469.2L128.75 473.4M132.41 471.35L128.75 473.4L128.95 469.2M134.59 469.2L131.19 472.2M135.29 471.3L131.19 472.2L132.6 468.24M137.83 469.2L134.83 472.8M138.75 471.28L134.83 472.8L135.62 468.67M141.08 469.2L137.48 471.8M141.65 471.3L137.48 471.8L139.26 468M144.32 469.2L141.52 472.8M145.38 471.15L141.52 472.8L142.17 468.65M147.56 469.2L143.96 472.2M148.09 471.41L143.96 472.2L145.48 468.28M150.8 469.2L147.8 474.4M151.4 472.24L147.8 474.4L147.87 470.2M154.04 469.2L150.04 473.8M153.99 472.36L150.04 473.8L150.92 469.69M157.29 469.2L154.69 475.1M158.03 472.56L154.69 475.1L154.3 470.92M160.53 469.2L160.73 476.5M162.66 472.77L160.73 476.5L158.59 472.88M163.77 469.2L161.27 475.5M164.52 472.84L161.27 475.5L160.73 471.33M167.01 469.2L163.01 473.3M167.03 472.09L163.01 473.3L164.12 469.25M170.25 469.2L165.95 470.9M170.12 471.44L165.95 470.9L168.62 467.66M173.5 469.2L169.4 468.3M172.55 471.08L169.4 468.3L173.42 467.1M176.74 469.2L173.04 475.5M176.65 473.36L173.04 475.5L173.14 471.3M179.98 469.2L184.18 478.1M184.45 473.91L184.18 478.1L180.77 475.65M183.22 469.2L171.82 476.4M176.02 476.16L171.82 476.4L173.84 472.72M186.46 469.2L190.76 479.4M191.21 475.22L190.76 479.4L187.46 476.81M189.71 469.2L188.61 478.8M191.05 475.38L188.61 478.8L187 474.92M192.95 469.2L199.25 467M195.11 466.29L199.25 467L196.45 470.13M196.19 469.2L195.29 476.8M197.74 473.39L195.29 476.8L193.7 472.91M199.43 469.2L197.43 471.2M201.47 470.04L197.43 471.2L198.59 467.16M202.67 469.2L197.97 459.4M197.73 463.59L197.97 459.4L201.4 461.83M205.92 469.2L207.42 465.7M204.1 468.27L207.42 465.7L207.84 469.88M209.16 469.2L212.16 467.7M207.96 467.52L212.16 467.7L209.78 471.16M212.4 469.2L215.9 470.2M212.93 467.23L215.9 470.2L211.81 471.15M215.64 469.2L218.64 471.7M217.12 467.78L218.64 471.7L214.52 470.91M218.88 469.2L221.88 470.7M219.51 467.24L221.88 470.7L217.69 470.88M222.13 469.2L225.33 470M222.26 467.13L225.33 470L221.27 471.08M225.37 469.2L228.37 471M226.27 467.36L228.37 471L224.17 470.86M228.61 469.2L231.41 472.2M230.39 468.13L231.41 472.2L227.41 470.9M231.85 469.2L233.85 475.5M234.68 471.38L233.85 475.5L230.8 472.61M235.09 469.2L236.09 474.7M237.44 470.72L236.09 474.7L233.43 471.45M238.34 469.2L236.84 473.2M240.03 470.48L236.84 473.2L236.22 469.05M241.58 469.2L238.08 471.7M242.25 471.22L238.08 471.7L239.88 467.91M244.82 469.2L240.82 468.2M243.89 471.07L240.82 468.2L244.88 467.12M248.06 469.2L244.36 467.6M246.93 470.93L244.36 467.6L248.54 467.19M251.3 469.2L245.8 465.7M247.81 469.39L245.8 465.7L250 465.95M254.55 469.2L249.05 467M251.7 470.25L249.05 467L253.21 466.47M257.79 469.2L251.79 470.2M255.75 471.6L251.79 470.2L255.08 467.59M261.03 469.2L267.93 478.1M267.29 473.95L267.93 478.1L264.07 476.44M264.27 469.2L258.87 464.4M260.26 468.36L258.87 464.4L262.97 465.32M267.51 469.2L273.01 473.4M271.33 469.55L273.01 473.4L268.86 472.79M270.76 469.2L273.76 473.2M273.18 469.04L273.76 473.2L269.92 471.48M274 469.2L276.5 474.2M276.68 470L276.5 474.2L273.03 471.83M277.24 469.2L276.44 463.7M274.95 467.63L276.44 463.7L278.98 467.04M280.48 469.2L283.68 470.1M280.7 467.15L283.68 470.1L279.59 471.07M283.72 469.2L286.42 470.6M284.1 467.1L286.42 470.6L282.23 470.72M286.97 469.2L289.67 471M287.74 467.27L289.67 471L285.48 470.66M290.21 469.2L293.41 470.1M290.42 467.15L293.41 470.1L289.32 471.07M293.45 469.2L291.15 471.5M295.19 470.34L291.15 471.5L292.31 467.46M296.69 469.2L293.09 472.4M297.19 471.48L293.09 472.4L294.48 468.44M299.93 469.2L296.73 469.7M300.68 471.14L296.73 469.7L300.05 467.12M303.18 469.2L299.48 469.2M303.15 471.24L299.48 469.2L303.15 467.16M306.42 469.2L302.72 469.7M306.63 471.23L302.72 469.7L306.09 467.19M309.66 469.2L304.16 475.6M308.1 474.14L304.16 475.6L305.01 471.49M312.9 469.2L309.7 474.2M313.4 472.2L309.7 474.2L309.97 470.01M316.14 469.2L319.64 476.2M319.82 472L319.64 476.2L316.18 473.83M319.39 469.2L315.89 480.2M318.94 477.32L315.89 480.2L315.06 476.08M322.63 469.2L315.83 480.7M319.45 478.57L315.83 480.7L315.94 476.5M325.87 469.2L324.47 478.1M327.05 474.79L324.47 478.1L323.03 474.15M329.11 469.2L325.61 472.7M329.65 471.54L325.61 472.7L326.77 468.66M332.35 469.2L328.35 472.8M332.45 471.86L328.35 472.8L329.72 468.83M335.6 469.2L331.6 472.2M335.76 471.62L331.6 472.2L333.31 468.37M338.84 469.2L335.34 471.7M339.51 471.22L335.34 471.7L337.14 467.91M342.08 469.2L338.18 478.7M341.46 476.08L338.18 478.7L337.69 474.53M345.32 469.2L337.52 484.6M341 482.24L337.52 484.6L337.37 480.4M348.56 469.2L343.96 476.1M347.7 474.17L343.96 476.1L344.31 471.91M351.81 469.2L349.81 473.5M353.2 471.03L349.81 473.5L349.51 469.31M355.05 469.2L353.05 480.7M355.68 477.43L353.05 480.7L351.67 476.73M358.29 469.2L355.79 474.8M359.15 472.28L355.79 474.8L355.43 470.62M361.53 469.2L358.03 471.2M362.23 471.15L358.03 471.2L360.21 467.61M364.77 469.2L361.67 470.2M365.8 471.01L361.67 470.2L364.54 467.13M368.02 469.2L364.22 468.9M367.72 471.22L364.22 468.9L368.04 467.16M371.26 469.2L367.46 468.2M370.49 471.1L367.46 468.2L371.53 467.17M374.5 469.2L370.2 467.6M372.93 470.79L370.2 467.6L374.35 466.97M377.74 469.2L373.44 468.5M376.74 471.1L373.44 468.5L377.39 467.08M380.98 469.2L377.28 477.4M380.65 474.89L377.28 477.4L376.94 473.21M384.23 469.2L381.03 471.7M385.17 471.04L381.03 471.7L382.67 467.83M387.47 469.2L386.97 465.7M385.47 469.62L386.97 465.7L389.5 469.05M390.71 469.2L390.21 473M392.71 469.62L390.21 473L388.67 469.09M393.95 469.2L395.15 473.4M396.1 469.31L395.15 473.4L392.18 470.43M397.19 469.2L397.69 481.4M399.58 477.65L397.69 481.4L395.51 477.81M400.44 469.2L400.44 476.2M402.47 472.53L400.44 476.2L398.4 472.53M403.68 469.2L402.88 478.1M405.23 474.62L402.88 478.1L401.18 474.26M406.92 469.2L408.92 478.1M410.1 474.07L408.92 478.1L406.13 474.96M410.16 469.2L414.76 467M410.57 466.75L414.76 467L412.33 470.42M413.4 469.2L415.9 466.7M411.87 467.86L415.9 466.7L414.75 470.74M416.65 469.2L413.85 468.2M416.62 471.35L413.85 468.2L417.99 467.52M419.89 469.2L416.39 470.7M420.57 471.12L416.39 470.7L418.96 467.38M423.13 469.2L425.23 474.2M425.68 470.02L425.23 474.2L421.93 471.6M426.37 469.2L429.17 467.4M424.98 467.67L429.17 467.4L427.18 471.1M429.61 469.2L429.11 478.7M431.34 475.14L429.11 478.7L427.27 474.92M432.86 469.2L429.76 478.1M432.89 475.3L429.76 478.1L429.04 473.96M436.1 469.2L432.4 475.5M436.01 473.36L432.4 475.5L432.5 471.3M439.34 469.2L439.34 466.5M437.3 470.17L439.34 466.5L441.38 470.17M442.58 469.2L440.18 474.8M443.5 472.23L440.18 474.8L439.76 470.62M445.82 469.2L442.82 477.4M446 474.65L442.82 477.4L442.17 473.25M449.07 469.2L445.37 478.1M448.66 475.49L445.37 478.1L444.9 473.93M452.31 469.2L448.11 476.8M451.67 474.57L448.11 476.8L448.1 472.6M455.55 469.2L454.65 474.8M457.24 471.5L454.65 474.8L453.22 470.85M458.79 469.2L458.49 476.1M460.69 472.52L458.49 476.1L456.62 472.34M462.03 469.2L463.73 476.1M464.83 472.05L463.73 476.1L460.88 473.02M465.28 469.2L469.18 467M464.98 467.03L469.18 467L466.98 470.58M468.52 469.2L473.12 480M473.55 475.82L473.12 480L469.81 477.42M471.76 469.2L475.06 479.4M475.87 475.28L475.06 479.4L471.99 476.53M475 469.2L477 479.2M478.28 475.2L477 479.2L474.28 476M478.24 469.2L480.34 480.7M481.69 476.72L480.34 480.7L477.68 477.45M481.49 469.2L482.29 479.4M484.03 475.58L482.29 479.4L479.97 475.9M484.73 469.2L485.53 482M487.33 478.21L485.53 482L483.27 478.46M487.97 469.2L488.47 481.4M490.35 477.65L488.47 481.4L486.29 477.81M491.21 469.2L491.61 482M493.53 478.26L491.61 482L489.46 478.39M494.45 469.2L496.05 477.4M497.35 473.4L496.05 477.4L493.35 474.18M497.7 469.2L499.3 479.4M500.74 475.46L499.3 479.4L496.72 476.09M500.94 469.2L501.24 476.8M503.13 473.05L501.24 476.8L499.06 473.21M504.18 469.2L502.68 475.2M505.55 472.13L502.68 475.2L501.6 471.14M507.42 469.2L507.72 474.8M509.56 471.02L507.72 474.8L505.49 471.24M510.66 469.2L509.06 474.2M512.12 471.32L509.06 474.2L508.24 470.08M513.91 469.2L513.01 478.7M515.38 475.24L513.01 478.7L511.33 474.85M517.15 469.2L514.25 478.1M517.32 475.24L514.25 478.1L513.45 473.98M520.39 469.2L517.49 477.4M520.63 474.62L517.49 477.4L516.8 473.26M523.63 469.2L520.13 474.8M523.81 472.76L520.13 474.8L520.35 470.61M526.87 469.2L524.77 473.5M528.22 471.09L524.77 473.5L524.56 469.31M530.12 469.2L527.42 473.5M531.09 471.47L527.42 473.5L527.64 469.31M533.36 469.2L531.26 474.8M534.45 472.08L531.26 474.8L530.64 470.65M536.6 469.2L537 466.9M534.36 470.17L537 466.9L538.38 470.87M539.84 469.2L538.44 474.2M541.39 471.21L538.44 474.2L537.47 470.11M543.08 469.2L539.58 469.2M543.26 471.24L539.58 469.2L543.26 467.16M546.33 469.2L542.83 467.8M545.48 471.05L542.83 467.8L546.99 467.27M549.57 469.2L546.37 468.2M549.27 471.24L546.37 468.2L550.48 467.35M552.81 469.2L548.91 476.1M552.49 473.9L548.91 476.1L548.94 471.9M556.05 469.2L552.45 477.9M555.74 475.28L552.45 477.9L551.98 473.73M559.29 469.2L556.59 479.7M559.48 476.65L556.59 479.7L555.54 475.64M562.54 469.2L559.34 477M562.61 474.37L559.34 477L558.85 472.83M565.78 469.2L561.18 471.5M565.37 471.68L561.18 471.5L563.55 468.04M569.02 469.2L563.92 470.1M567.89 471.47L563.92 470.1L567.18 467.46M572.26 469.2L566.66 467.8M569.73 470.67L566.66 467.8L570.72 466.72M575.5 469.2L570.4 466M572.43 469.68L570.4 466L574.6 466.23M578.75 469.2L573.05 464.6M574.63 468.49L573.05 464.6L577.18 465.32M581.99 469.2L576.79 465.1M578.41 468.97L576.79 465.1L580.93 465.78M585.23 469.2L584.53 463.3M582.94 467.19L584.53 463.3L586.98 466.71M588.47 469.2L562.17 471M565.98 472.78L562.17 471L565.7 468.72M591.71 469.2L568.11 476.1M572.21 477.02L568.11 476.1L571.07 473.11" stroke="#000" stroke-width="1.1" stroke-linecap="butt" stroke-linejoin="miter"/>
<polyline points="50.3,506.25 53.54,506.9 56.78,498.41 60.03,490.95 63.27,493.83 66.51,499.32 69.75,499.97 72.99,502.33 76.24,506.25 79.48,504.94 82.72,494.48 85.96,482.72 89.2,478.8 92.45,485.33 95.69,491.87 98.93,497.1 102.17,495.79 105.41,497.75 108.66,504.29 111.9,507.16 115.14,505.86 118.38,504.55 121.62,506.25 124.87,509.25 128.11,508.86 131.35,499.71 134.59,491.61 137.83,494.48 141.08,501.02 144.32,503.37 147.56,504.68 150.8,508.21 154.04,508.21 157.29,501.67 160.53,495.53 163.77,495.79 167.01,498.41 170.25,501.41 173.5,504.29 176.74,501.41 179.98,491.22 183.22,483.37 186.46,478.14 189.71,475.27 192.95,482.07 196.19,489.91 199.43,493.83 202.67,494.88 205.92,501.02 209.16,507.16 212.4,508.86 215.64,506.9 218.88,506.9 222.13,507.16 225.37,502.98 228.61,498.14 231.85,498.14 235.09,501.41 238.34,501.93 241.58,501.02 244.82,503.37 248.06,504.94 251.3,502.98 254.55,497.1 257.79,489.65 261.03,487.03 264.27,488.99 267.51,489.65 270.76,497.1 274,505.33 277.24,505.27 280.48,499.71 283.72,495.14 286.97,499.32 290.21,503.63 293.45,506.51 296.69,509.25 299.93,510.17 303.18,508.21 306.42,507.16 309.66,502.33 312.9,493.18 316.14,488.86 319.39,487.69 322.63,488.99 325.87,493.83 329.11,499.06 332.35,503.24 335.6,505.99 338.84,503.63 342.08,489.91 345.32,479.06 348.56,485.73 351.81,493.18 355.05,492.92 358.29,494.88 361.53,499.06 364.77,503.63 368.02,508.21 371.26,510.82 374.5,508.86 377.74,501.41 380.98,497.75 384.23,503.63 387.47,508.21 390.71,505.2 393.95,497.1 397.19,489.65 400.44,490.3 403.68,492.92 406.92,495.53 410.16,502.98 413.4,510.43 416.65,507.56 419.89,501.41 423.13,503.63 426.37,504.68 429.61,496.44 432.86,492.26 436.1,499.06 439.34,505.86 442.58,503.63 445.82,496.44 449.07,491.61 452.31,490.82 455.55,496.44 458.79,499.06 462.03,501.67 465.28,507.95 468.52,504.94 471.76,494.48 475,487.56 478.24,486.64 481.49,485.33 484.73,482.72 487.97,481.8 491.21,486.64 494.45,492.52 497.7,494.48 500.94,481.41 504.18,467.03 507.42,476.18 510.66,497.1 513.91,501.02 517.15,496.44 520.39,492.92 523.63,495.4 526.87,501.67 530.12,505.33 533.36,505.99 536.6,506.64 539.84,505.86 543.08,507.95 546.33,509.78 549.57,504.29 552.81,494.48 556.05,488.29 559.29,488.24 562.54,493.2 565.78,497.78 569.02,497.52 572.26,495.82 575.5,494.51 578.75,495.82 581.99,497.52 585.23,485.36 588.47,461.83 591.71,450.72" stroke="#1e3cff"/>
</g>
<g fill="none">
<path d="M46.9 514.6H50.3M46.9 496.6H50.3M46.9 478.6H50.3M46.9 460.6H50.3M46.9 442.6H50.3M46.9 424.6H50.3M50.3 514.6V517.3M128.11 514.6V517.3M205.92 514.6V517.3M283.72 514.6V517.3M361.53 514.6V517.3M439.34 514.6V517.3M517.15 514.6V517.3" stroke="#000" stroke-width="1.2" fill="none"/>
<path d="M38.72 514.08 38.72 515.13 39.04 516.89 39.68 517.95 40.64 518.3 41.28 518.3 42.24 517.95 42.88 516.89 43.2 515.13 43.2 514.08 42.88 512.32 42.24 511.26 41.28 510.91 40.64 510.91 39.68 511.26 39.04 512.32 38.72 514.08" stroke="#000" stroke-width="1.4"/>
<path d="M41.6 494.32 42.24 493.96 43.2 492.91 43.2 500.3" stroke="#000" stroke-width="1.4"/>
<path d="M39.04 476.67 39.04 476.32 39.36 475.61 39.68 475.26 40.32 474.91 41.6 474.91 42.24 475.26 42.56 475.61 42.88 476.32 42.88 477.02 42.56 477.72 41.92 478.78 38.72 482.3 43.2 482.3" stroke="#000" stroke-width="1.4"/>
<path d="M38.72 462.89 39.04 463.6 39.36 463.95 40.32 464.3 41.28 464.3 42.24 463.95 42.88 463.24 43.2 462.19 43.2 461.48 42.88 460.43 42.56 460.08 41.92 459.72 40.96 459.72 42.88 456.91 39.36 456.91" stroke="#000" stroke-width="1.4"/>
<path d="M41.6 446.3 41.6 438.91 38.4 443.84 43.2 443.84" stroke="#000" stroke-width="1.4"/>
<path d="M38.72 426.89 39.04 427.6 39.36 427.95 40.32 428.3 41.28 428.3 42.24 427.95 42.88 427.24 43.2 426.19 43.2 425.48 42.88 424.43 42.24 423.72 41.28 423.37 40.32 423.37 39.36 423.72 39.04 424.08 39.36 420.91 42.56 420.91" stroke="#000" stroke-width="1.4"/>
<path d="M35.17 527.12 35.48 527.86 35.79 528.23 36.73 528.6 37.66 528.6 38.6 528.23 39.22 527.49 39.54 526.37 39.54 525.63 39.22 524.52 38.91 524.15 38.29 523.78 37.35 523.78 39.22 520.81 35.79 520.81M42.34 522.29 42.97 521.92 43.9 520.81 43.9 528.6M47.96 528.6 47.96 520.81 50.46 528.6 52.95 520.81 52.95 528.6M54.51 528.6 57.01 520.81 59.5 528.6M55.45 526 58.57 526M61.06 528.6 61.06 520.81 63.87 520.81 64.81 521.18 65.12 521.55 65.43 522.29 65.43 523.03 65.12 523.78 64.81 524.15 63.87 524.52 61.06 524.52M65.43 528.6 63.25 524.52" stroke="#000" stroke-width="1.4"/>
<path d="M117.03 522.29 117.66 521.92 118.59 520.81 118.59 528.6M121.71 528.6 124.21 520.81 126.7 528.6M122.65 526 125.77 526M128.26 528.6 128.26 520.81 131.07 520.81 132.01 521.18 132.32 521.55 132.63 522.29 132.63 523.41 132.32 524.15 132.01 524.52 131.07 524.89 128.26 524.89M134.82 528.6 134.82 520.81 137.62 520.81 138.56 521.18 138.87 521.55 139.18 522.29 139.18 523.03 138.87 523.78 138.56 524.15 137.62 524.52 134.82 524.52M139.18 528.6 137 524.52" stroke="#000" stroke-width="1.4"/>
<path d="M194.68 522.66 194.68 522.29 195 521.55 195.31 521.18 195.93 520.81 197.18 520.81 197.8 521.18 198.12 521.55 198.43 522.29 198.43 523.03 198.12 523.78 197.49 524.89 194.37 528.6 198.74 528.6M199.99 528.6 202.48 520.81 204.98 528.6M200.92 526 204.04 526M206.54 528.6 206.54 520.81 209.35 520.81 210.28 521.18 210.6 521.55 210.91 522.29 210.91 523.41 210.6 524.15 210.28 524.52 209.35 524.89 206.54 524.89M213.09 528.6 213.09 520.81 215.9 520.81 216.84 521.18 217.15 521.55 217.46 522.29 217.46 523.03 217.15 523.78 216.84 524.15 215.9 524.52 213.09 524.52M217.46 528.6 215.28 524.52" stroke="#000" stroke-width="1.4"/>
<path d="M272.18 527.12 272.49 527.86 272.8 528.23 273.74 528.6 274.68 528.6 275.61 528.23 276.24 527.49 276.55 526.37 276.55 525.63 276.24 524.52 275.92 524.15 275.3 523.78 274.36 523.78 276.24 520.81 272.8 520.81M277.8 528.6 280.29 520.81 282.79 528.6M278.73 526 281.85 526M284.35 528.6 284.35 520.81 287.16 520.81 288.09 521.18 288.4 521.55 288.72 522.29 288.72 523.41 288.4 524.15 288.09 524.52 287.16 524.89 284.35 524.89M290.9 528.6 290.9 520.81 293.71 520.81 294.64 521.18 294.96 521.55 295.27 522.29 295.27 523.03 294.96 523.78 294.64 524.15 293.71 524.52 290.9 524.52M295.27 528.6 293.08 524.52" stroke="#000" stroke-width="1.4"/>
<path d="M353.11 528.6 353.11 520.81 349.99 526 354.67 526M355.6 528.6 358.1 520.81 360.6 528.6M356.54 526 359.66 526M362.16 528.6 362.16 520.81 364.96 520.81 365.9 521.18 366.21 521.55 366.52 522.29 366.52 523.41 366.21 524.15 365.9 524.52 364.96 524.89 362.16 524.89M368.71 528.6 368.71 520.81 371.52 520.81 372.45 521.18 372.76 521.55 373.08 522.29 373.08 523.03 372.76 523.78 372.45 524.15 371.52 524.52 368.71 524.52M373.08 528.6 370.89 524.52" stroke="#000" stroke-width="1.4"/>
<path d="M427.8 527.12 428.11 527.86 428.42 528.23 429.36 528.6 430.29 528.6 431.23 528.23 431.85 527.49 432.16 526.37 432.16 525.63 431.85 524.52 431.23 523.78 430.29 523.41 429.36 523.41 428.42 523.78 428.11 524.15 428.42 520.81 431.54 520.81M433.41 528.6 435.91 520.81 438.4 528.6M434.35 526 437.47 526M439.96 528.6 439.96 520.81 442.77 520.81 443.71 521.18 444.02 521.55 444.33 522.29 444.33 523.41 444.02 524.15 443.71 524.52 442.77 524.89 439.96 524.89M446.52 528.6 446.52 520.81 449.32 520.81 450.26 521.18 450.57 521.55 450.88 522.29 450.88 523.03 450.57 523.78 450.26 524.15 449.32 524.52 446.52 524.52M450.88 528.6 448.7 524.52" stroke="#000" stroke-width="1.4"/>
<path d="M509.5 521.92 509.19 521.18 508.26 520.81 507.63 520.81 506.7 521.18 506.07 522.29 505.76 524.15 505.76 526 506.07 527.49 506.7 528.23 507.63 528.6 507.94 528.6 508.88 528.23 509.5 527.49 509.82 526.37 509.82 526 509.5 524.89 508.88 524.15 507.94 523.78 507.63 523.78 506.7 524.15 506.07 524.89 505.76 526M511.06 528.6 513.56 520.81 516.06 528.6M512 526 515.12 526M517.62 528.6 517.62 520.81 520.42 520.81 521.36 521.18 521.67 521.55 521.98 522.29 521.98 523.41 521.67 524.15 521.36 524.52 520.42 524.89 517.62 524.89M524.17 528.6 524.17 520.81 526.98 520.81 527.91 521.18 528.22 521.55 528.54 522.29 528.54 523.03 528.22 523.78 527.91 524.15 526.98 524.52 524.17 524.52M528.54 528.6 526.35 524.52" stroke="#000" stroke-width="1.4"/>
<path d="M39.07 533.36 39.07 532.99 39.38 532.25 39.69 531.88 40.32 531.51 41.56 531.51 42.19 531.88 42.5 532.25 42.81 532.99 42.81 533.74 42.5 534.48 41.88 535.59 38.76 539.3 43.12 539.3M45 534.85 45 535.96 45.31 537.82 45.93 538.93 46.87 539.3 47.49 539.3 48.43 538.93 49.05 537.82 49.36 535.96 49.36 534.85 49.05 532.99 48.43 531.88 47.49 531.51 46.87 531.51 45.93 531.88 45.31 532.99 45 534.85M51.55 533.36 51.55 532.99 51.86 532.25 52.17 531.88 52.8 531.51 54.04 531.51 54.67 531.88 54.98 532.25 55.29 532.99 55.29 533.74 54.98 534.48 54.36 535.59 51.24 539.3 55.6 539.3M61.53 532.62 61.22 531.88 60.28 531.51 59.66 531.51 58.72 531.88 58.1 532.99 57.79 534.85 57.79 536.7 58.1 538.19 58.72 538.93 59.66 539.3 59.97 539.3 60.91 538.93 61.53 538.19 61.84 537.07 61.84 536.7 61.53 535.59 60.91 534.85 59.97 534.48 59.66 534.48 58.72 534.85 58.1 535.59 57.79 536.7" stroke="#000" stroke-width="1.4"/>
</g>
<rect x="50.3" y="550.6" width="541.41" height="90" fill="none" stroke="#000" stroke-width="1.75"/>
<path d="M49.85 629.35H591.71M49.85 606.85H591.71M49.85 584.35H591.71M49.85 561.85H591.71M128.11 641.05V550.6M205.92 641.05V550.6M283.72 641.05V550.6M361.53 641.05V550.6M439.34 641.05V550.6M517.15 641.05V550.6" stroke="#a4a4a4" stroke-width="1.05" stroke-dasharray="1.9 4.58" fill="none"/>
<path d="M50.3 634.47V551.6" stroke="#d4d4d4" stroke-width="1.9" stroke-dasharray="1.5 4.98" fill="none"/>
<g fill="none" stroke-width="1.25" stroke-linejoin="round" clip-path="url(#c4)">
<polyline points="50.3,589.57 53.54,583.95 56.78,577.02 60.03,581.99 63.27,592.44 66.51,597.67 69.75,595.06 72.99,597.41 76.24,587.48 79.48,588.92 82.72,582.64 85.96,579.37 89.2,572.58 92.45,575.06 95.69,571.53 98.93,573.49 102.17,587.22 105.41,597.41 108.66,607.48 111.9,619.24 115.14,622.12 118.38,624.21 121.62,618.59 124.87,604.21 128.11,598.33 131.35,596.37 134.59,597.93 137.83,597.28 141.08,602.9 144.32,609.7 147.56,611.79 150.8,607.48 154.04,601.86 157.29,600.29 160.53,589.83 163.77,583.03 167.01,578.72 170.25,577.8 173.5,580.29 176.74,588.52 179.98,598.33 183.22,612.05 186.46,623.82 189.71,631.27 192.95,630.61 196.19,623.16 199.43,612.71 202.67,596.69 205.92,587.61 209.16,586.95 212.4,582.64 215.64,578.46 218.88,587.22 222.13,594.14 225.37,593.49 228.61,597.67 231.85,597.28 235.09,596.1 238.34,587.22 241.58,578.07 244.82,573.49 248.06,570.48 251.3,571.53 254.55,576.1 257.79,594.41 261.03,602.9 264.27,612.71 267.51,618.98 270.76,621.2 274,615.97 277.24,600.94 280.48,588.52 283.72,582.25 286.97,578.72 290.21,575.19 293.45,571.27 296.69,581.73 299.93,587.87 303.18,588.26 306.42,589.83 309.66,590.22 312.9,586.56 316.14,574.14 319.39,568.26 322.63,566.3 325.87,564.99 329.11,564.99 332.35,564.6 335.6,583.95 338.84,599.63 342.08,605.52 345.32,608.13 348.56,609.7 351.81,606.82 355.05,592.44 358.29,580.42 361.53,576.1 364.77,571.27 368.02,566.3 371.26,557.8 374.5,565.65 377.74,572.84 380.98,576.1 384.23,579.76 387.47,583.29 390.71,580.03 393.95,572.84 397.19,565.91 400.44,563.03 403.68,563.69 406.92,566.95 410.16,567.61 413.4,580.68 416.65,592.44 419.89,601.59 423.13,608.78 426.37,614.27 429.61,611.92 432.86,600.29 436.1,589.83 439.34,582.25 442.58,577.41 445.82,574.41 449.07,573.88 452.31,583.29 455.55,588.92 458.79,592.44 462.03,593.75 465.28,594.14 468.52,587.87 471.76,580.03 475,577.02 478.24,575.19 481.49,571.92 484.73,575.45 487.97,581.33 491.21,593.1 494.45,604.21 497.7,615.32 500.94,622.12 504.18,623.16 507.42,624.47 510.66,604.86 513.91,594.41 517.15,588.52 520.39,583.29 523.63,582.64 526.87,580.68 530.12,587.87 533.36,593.75 536.6,597.67 539.84,601.2 543.08,600.68 546.33,598.33 549.57,592.44 552.81,584.99 556.05,580.68 559.29,579.11 562.54,581.73 565.78,585.91 569.02,599.63 572.26,614.01 575.5,617.93 578.75,622.9 581.99,621.86 585.23,614.67 588.47,602.25 591.71,589.83" stroke="#1e3cff"/>
</g>
<g fill="none">
<path d="M46.9 629.35H50.3M46.9 606.85H50.3M46.9 584.35H50.3M46.9 561.85H50.3M50.3 640.6V643.3M128.11 640.6V643.3M205.92 640.6V643.3M283.72 640.6V643.3M361.53 640.6V643.3M439.34 640.6V643.3M517.15 640.6V643.3" stroke="#000" stroke-width="1.2" fill="none"/>
<path d="M20.48 627.07 21.12 626.71 22.08 625.66 22.08 633.05M25.92 628.83 25.92 629.88 26.24 631.64 26.88 632.7 27.84 633.05 28.48 633.05 29.44 632.7 30.08 631.64 30.4 629.88 30.4 628.83 30.08 627.07 29.44 626.01 28.48 625.66 27.84 625.66 26.88 626.01 26.24 627.07 25.92 628.83M32.32 628.83 32.32 629.88 32.64 631.64 33.28 632.7 34.24 633.05 34.88 633.05 35.84 632.7 36.48 631.64 36.8 629.88 36.8 628.83 36.48 627.07 35.84 626.01 34.88 625.66 34.24 625.66 33.28 626.01 32.64 627.07 32.32 628.83M38.72 630.59 38.72 631.64 39.04 632.35 39.36 632.7 40.32 633.05 41.6 633.05 42.56 632.7 42.88 632.35 43.2 631.64 43.2 630.59 42.88 629.88 42.24 629.18 41.28 628.83 40 628.47 39.36 628.12 39.04 627.42 39.04 626.71 39.36 626.01 40.32 625.66 41.6 625.66 42.56 626.01 42.88 626.71 42.88 627.42 42.56 628.12 41.92 628.47 40.64 628.83 39.68 629.18 39.04 629.88 38.72 630.59" stroke="#000" stroke-width="1.4"/>
<path d="M20.48 604.57 21.12 604.21 22.08 603.16 22.08 610.55M25.92 606.33 25.92 607.38 26.24 609.14 26.88 610.2 27.84 610.55 28.48 610.55 29.44 610.2 30.08 609.14 30.4 607.38 30.4 606.33 30.08 604.57 29.44 603.51 28.48 603.16 27.84 603.16 26.88 603.51 26.24 604.57 25.92 606.33M33.28 604.57 33.92 604.21 34.88 603.16 34.88 610.55M38.72 606.33 38.72 607.38 39.04 609.14 39.68 610.2 40.64 610.55 41.28 610.55 42.24 610.2 42.88 609.14 43.2 607.38 43.2 606.33 42.88 604.57 42.24 603.51 41.28 603.16 40.64 603.16 39.68 603.51 39.04 604.57 38.72 606.33" stroke="#000" stroke-width="1.4"/>
<path d="M20.48 582.07 21.12 581.71 22.08 580.66 22.08 588.05M25.92 583.83 25.92 584.88 26.24 586.64 26.88 587.7 27.84 588.05 28.48 588.05 29.44 587.7 30.08 586.64 30.4 584.88 30.4 583.83 30.08 582.07 29.44 581.01 28.48 580.66 27.84 580.66 26.88 581.01 26.24 582.07 25.92 583.83M33.28 582.07 33.92 581.71 34.88 580.66 34.88 588.05M39.04 582.42 39.04 582.07 39.36 581.36 39.68 581.01 40.32 580.66 41.6 580.66 42.24 581.01 42.56 581.36 42.88 582.07 42.88 582.77 42.56 583.47 41.92 584.53 38.72 588.05 43.2 588.05" stroke="#000" stroke-width="1.4"/>
<path d="M20.16 559.57 20.8 559.21 21.76 558.16 21.76 565.55M25.6 561.33 25.6 562.38 25.92 564.14 26.56 565.2 27.52 565.55 28.16 565.55 29.12 565.2 29.76 564.14 30.08 562.38 30.08 561.33 29.76 559.57 29.12 558.51 28.16 558.16 27.52 558.16 26.56 558.51 25.92 559.57 25.6 561.33M32.96 559.57 33.6 559.21 34.56 558.16 34.56 565.55M41.6 565.55 41.6 558.16 38.4 563.09 43.2 563.09" stroke="#000" stroke-width="1.4"/>
<path d="M35.17 653.12 35.48 653.86 35.79 654.23 36.73 654.6 37.66 654.6 38.6 654.23 39.22 653.49 39.54 652.37 39.54 651.63 39.22 650.52 38.91 650.15 38.29 649.78 37.35 649.78 39.22 646.81 35.79 646.81M42.34 648.29 42.97 647.92 43.9 646.81 43.9 654.6M47.96 654.6 47.96 646.81 50.46 654.6 52.95 646.81 52.95 654.6M54.51 654.6 57.01 646.81 59.5 654.6M55.45 652 58.57 652M61.06 654.6 61.06 646.81 63.87 646.81 64.81 647.18 65.12 647.55 65.43 648.29 65.43 649.03 65.12 649.78 64.81 650.15 63.87 650.52 61.06 650.52M65.43 654.6 63.25 650.52" stroke="#000" stroke-width="1.4"/>
<path d="M117.03 648.29 117.66 647.92 118.59 646.81 118.59 654.6M121.71 654.6 124.21 646.81 126.7 654.6M122.65 652 125.77 652M128.26 654.6 128.26 646.81 131.07 646.81 132.01 647.18 132.32 647.55 132.63 648.29 132.63 649.41 132.32 650.15 132.01 650.52 131.07 650.89 128.26 650.89M134.82 654.6 134.82 646.81 137.62 646.81 138.56 647.18 138.87 647.55 139.18 648.29 139.18 649.03 138.87 649.78 138.56 650.15 137.62 650.52 134.82 650.52M139.18 654.6 137 650.52" stroke="#000" stroke-width="1.4"/>
<path d="M194.68 648.66 194.68 648.29 195 647.55 195.31 647.18 195.93 646.81 197.18 646.81 197.8 647.18 198.12 647.55 198.43 648.29 198.43 649.03 198.12 649.78 197.49 650.89 194.37 654.6 198.74 654.6M199.99 654.6 202.48 646.81 204.98 654.6M200.92 652 204.04 652M206.54 654.6 206.54 646.81 209.35 646.81 210.28 647.18 210.6 647.55 210.91 648.29 210.91 649.41 210.6 650.15 210.28 650.52 209.35 650.89 206.54 650.89M213.09 654.6 213.09 646.81 215.9 646.81 216.84 647.18 217.15 647.55 217.46 648.29 217.46 649.03 217.15 649.78 216.84 650.15 215.9 650.52 213.09 650.52M217.46 654.6 215.28 650.52" stroke="#000" stroke-width="1.4"/>
<path d="M272.18 653.12 272.49 653.86 272.8 654.23 273.74 654.6 274.68 654.6 275.61 654.23 276.24 653.49 276.55 652.37 276.55 651.63 276.24 650.52 275.92 650.15 275.3 649.78 274.36 649.78 276.24 646.81 272.8 646.81M277.8 654.6 280.29 646.81 282.79 654.6M278.73 652 281.85 652M284.35 654.6 284.35 646.81 287.16 646.81 288.09 647.18 288.4 647.55 288.72 648.29 288.72 649.41 288.4 650.15 288.09 650.52 287.16 650.89 284.35 650.89M290.9 654.6 290.9 646.81 293.71 646.81 294.64 647.18 294.96 647.55 295.27 648.29 295.27 649.03 294.96 649.78 294.64 650.15 293.71 650.52 290.9 650.52M295.27 654.6 293.08 650.52" stroke="#000" stroke-width="1.4"/>
<path d="M353.11 654.6 353.11 646.81 349.99 652 354.67 652M355.6 654.6 358.1 646.81 360.6 654.6M356.54 652 359.66 652M362.16 654.6 362.16 646.81 364.96 646.81 365.9 647.18 366.21 647.55 366.52 648.29 366.52 649.41 366.21 650.15 365.9 650.52 364.96 650.89 362.16 650.89M368.71 654.6 368.71 646.81 371.52 646.81 372.45 647.18 372.76 647.55 373.08 648.29 373.08 649.03 372.76 649.78 372.45 650.15 371.52 650.52 368.71 650.52M373.08 654.6 370.89 650.52" stroke="#000" stroke-width="1.4"/>
<path d="M427.8 653.12 428.11 653.86 428.42 654.23 429.36 654.6 430.29 654.6 431.23 654.23 431.85 653.49 432.16 652.37 432.16 651.63 431.85 650.52 431.23 649.78 430.29 649.41 429.36 649.41 428.42 649.78 428.11 650.15 428.42 646.81 431.54 646.81M433.41 654.6 435.91 646.81 438.4 654.6M434.35 652 437.47 652M439.96 654.6 439.96 646.81 442.77 646.81 443.71 647.18 444.02 647.55 444.33 648.29 444.33 649.41 444.02 650.15 443.71 650.52 442.77 650.89 439.96 650.89M446.52 654.6 446.52 646.81 449.32 646.81 450.26 647.18 450.57 647.55 450.88 648.29 450.88 649.03 450.57 649.78 450.26 650.15 449.32 650.52 446.52 650.52M450.88 654.6 448.7 650.52" stroke="#000" stroke-width="1.4"/>
<path d="M509.5 647.92 509.19 647.18 508.26 646.81 507.63 646.81 506.7 647.18 506.07 648.29 505.76 650.15 505.76 652 506.07 653.49 506.7 654.23 507.63 654.6 507.94 654.6 508.88 654.23 509.5 653.49 509.82 652.37 509.82 652 509.5 650.89 508.88 650.15 507.94 649.78 507.63 649.78 506.7 650.15 506.07 650.89 505.76 652M511.06 654.6 513.56 646.81 516.06 654.6M512 652 515.12 652M517.62 654.6 517.62 646.81 520.42 646.81 521.36 647.18 521.67 647.55 521.98 648.29 521.98 649.41 521.67 650.15 521.36 650.52 520.42 650.89 517.62 650.89M524.17 654.6 524.17 646.81 526.98 646.81 527.91 647.18 528.22 647.55 528.54 648.29 528.54 649.03 528.22 649.78 527.91 650.15 526.98 650.52 524.17 650.52M528.54 654.6 526.35 650.52" stroke="#000" stroke-width="1.4"/>
<path d="M39.07 659.36 39.07 658.99 39.38 658.25 39.69 657.88 40.32 657.51 41.56 657.51 42.19 657.88 42.5 658.25 42.81 658.99 42.81 659.74 42.5 660.48 41.88 661.59 38.76 665.3 43.12 665.3M45 660.85 45 661.96 45.31 663.82 45.93 664.93 46.87 665.3 47.49 665.3 48.43 664.93 49.05 663.82 49.36 661.96 49.36 660.85 49.05 658.99 48.43 657.88 47.49 657.51 46.87 657.51 45.93 657.88 45.31 658.99 45 660.85M51.55 659.36 51.55 658.99 51.86 658.25 52.17 657.88 52.8 657.51 54.04 657.51 54.67 657.88 54.98 658.25 55.29 658.99 55.29 659.74 54.98 660.48 54.36 661.59 51.24 665.3 55.6 665.3M61.53 658.62 61.22 657.88 60.28 657.51 59.66 657.51 58.72 657.88 58.1 658.99 57.79 660.85 57.79 662.7 58.1 664.19 58.72 664.93 59.66 665.3 59.97 665.3 60.91 664.93 61.53 664.19 61.84 663.07 61.84 662.7 61.53 661.59 60.91 660.85 59.97 660.48 59.66 660.48 58.72 660.85 58.1 661.59 57.79 662.7" stroke="#000" stroke-width="1.4"/>
</g>
<rect x="50.3" y="676.6" width="541.41" height="90" fill="none" stroke="#000" stroke-width="1.75"/>
<g clip-path="url(#c6)">
<path d="M48.68 769.6V717.14H51.92V769.6ZM51.92 769.6V715.83H55.16V769.6ZM55.16 769.6V695.96H58.41V769.6ZM58.4 769.6V688.38H61.65V769.6ZM61.65 769.6V709.29H64.89V769.6ZM64.89 769.6V707.33H68.13V769.6ZM68.13 769.6V703.41H71.37V769.6ZM71.37 769.6V699.49H74.61V769.6ZM74.61 769.6V688.12H77.86V769.6ZM77.86 769.6V681.19H81.1V769.6ZM81.1 769.6V679.23H84.34V769.6ZM84.34 769.6V677.92H87.58V769.6ZM87.58 769.6V679.88H90.82V769.6ZM90.83 769.6V677.92H94.07V769.6ZM94.07 769.6V677.92H97.31V769.6ZM97.31 769.6V678.58H100.55V769.6ZM100.55 769.6V678.58H103.79V769.6ZM103.79 769.6V681.19H107.03V769.6ZM107.04 769.6V689.95H110.28V769.6ZM110.28 769.6V700.8H113.52V769.6ZM113.52 769.6V708.25H116.76V769.6ZM116.76 769.6V708.25H120V769.6ZM120 769.6V685.11H123.24V769.6ZM123.25 769.6V681.84H126.49V769.6ZM126.49 769.6V676.88H129.73V769.6ZM129.73 769.6V676.88H132.97V769.6ZM132.97 769.6V676.88H136.21V769.6ZM136.21 769.6V676.88H139.46V769.6ZM139.45 769.6V677.92H142.7V769.6ZM142.7 769.6V676.88H145.94V769.6ZM145.94 769.6V676.88H149.18V769.6ZM149.18 769.6V687.07H152.42V769.6ZM152.42 769.6V700.8H155.66V769.6ZM155.66 769.6V694.92H158.91V769.6ZM158.91 769.6V686.42H162.15V769.6ZM162.15 769.6V676.88H165.39V769.6ZM165.39 769.6V676.88H168.63V769.6ZM168.63 769.6V676.88H171.88V769.6ZM171.87 769.6V676.88H175.12V769.6ZM175.12 769.6V676.88H178.36V769.6ZM178.36 769.6V676.88H181.6V769.6ZM181.6 769.6V676.88H184.84V769.6ZM184.84 769.6V676.88H188.09V769.6ZM188.09 769.6V676.88H191.33V769.6ZM191.33 769.6V676.88H194.57V769.6ZM194.57 769.6V676.88H197.81V769.6ZM197.81 769.6V676.88H201.05V769.6ZM201.05 769.6V676.88H204.29V769.6ZM204.29 769.6V676.88H207.54V769.6ZM207.54 769.6V676.88H210.78V769.6ZM210.78 769.6V676.88H214.02V769.6ZM214.02 769.6V676.88H217.26V769.6ZM217.26 769.6V676.88H220.51V769.6ZM220.5 769.6V676.88H223.75V769.6ZM223.75 769.6V676.88H226.99V769.6ZM226.99 769.6V676.88H230.23V769.6ZM230.23 769.6V676.88H233.47V769.6ZM233.47 769.6V676.88H236.72V769.6ZM236.72 769.6V676.88H239.96V769.6ZM239.96 769.6V676.88H243.2V769.6ZM243.2 769.6V676.88H246.44V769.6ZM246.44 769.6V676.88H249.68V769.6ZM249.68 769.6V676.88H252.92V769.6ZM252.92 769.6V676.88H256.17V769.6ZM256.17 769.6V676.88H259.41V769.6ZM259.41 769.6V676.88H262.65V769.6ZM262.65 769.6V676.88H265.89V769.6ZM265.89 769.6V676.88H269.13V769.6ZM269.13 769.6V676.88H272.38V769.6ZM272.38 769.6V676.88H275.62V769.6ZM275.62 769.6V677.92H278.86V769.6ZM278.86 769.6V677.92H282.1V769.6ZM282.1 769.6V677.92H285.34V769.6ZM285.35 769.6V677.92H288.59V769.6ZM288.59 769.6V677.92H291.83V769.6ZM291.83 769.6V677.92H295.07V769.6ZM295.07 769.6V676.88H298.31V769.6ZM298.31 769.6V676.88H301.55V769.6ZM301.56 769.6V676.88H304.8V769.6ZM304.8 769.6V676.88H308.04V769.6ZM308.04 769.6V676.88H311.28V769.6ZM311.28 769.6V676.88H314.52V769.6ZM314.52 769.6V676.88H317.76V769.6ZM317.77 769.6V676.88H321.01V769.6ZM321.01 769.6V676.88H324.25V769.6ZM324.25 769.6V676.88H327.49V769.6ZM327.49 769.6V676.88H330.73V769.6ZM330.73 769.6V676.88H333.97V769.6ZM333.98 769.6V676.88H337.22V769.6ZM337.22 769.6V676.88H340.46V769.6ZM340.46 769.6V676.88H343.7V769.6ZM343.7 769.6V676.88H346.94V769.6ZM346.94 769.6V676.88H350.19V769.6ZM350.19 769.6V676.88H353.43V769.6ZM353.43 769.6V676.88H356.67V769.6ZM356.67 769.6V676.88H359.91V769.6ZM359.91 769.6V676.88H363.15V769.6ZM363.15 769.6V676.88H366.39V769.6ZM366.4 769.6V676.88H369.64V769.6ZM369.64 769.6V676.88H372.88V769.6ZM372.88 769.6V676.88H376.12V769.6ZM376.12 769.6V676.88H379.36V769.6ZM379.36 769.6V676.88H382.61V769.6ZM382.61 769.6V676.88H385.85V769.6ZM385.85 769.6V683.15H389.09V769.6ZM389.09 769.6V711.91H392.33V769.6ZM392.33 769.6V721.06H395.57V769.6ZM395.57 769.6V693.61H398.81V769.6ZM398.82 769.6V676.88H402.06V769.6ZM402.06 769.6V676.88H405.3V769.6ZM405.3 769.6V676.88H408.54V769.6ZM408.54 769.6V676.88H411.78V769.6ZM411.78 769.6V676.88H415.02V769.6ZM415.03 769.6V676.88H418.27V769.6ZM418.27 769.6V676.88H421.51V769.6ZM421.51 769.6V676.88H424.75V769.6ZM424.75 769.6V676.88H427.99V769.6ZM427.99 769.6V676.88H431.24V769.6ZM431.24 769.6V676.88H434.48V769.6ZM434.48 769.6V676.88H437.72V769.6ZM437.72 769.6V676.88H440.96V769.6ZM440.96 769.6V676.88H444.2V769.6ZM444.2 769.6V676.88H447.44V769.6ZM447.45 769.6V676.88H450.69V769.6ZM450.69 769.6V676.88H453.93V769.6ZM453.93 769.6V676.88H457.17V769.6ZM457.17 769.6V676.88H460.41V769.6ZM460.41 769.6V676.88H463.65V769.6ZM463.66 769.6V676.88H466.9V769.6ZM466.9 769.6V676.88H470.14V769.6ZM470.14 769.6V676.88H473.38V769.6ZM473.38 769.6V676.88H476.62V769.6ZM476.62 769.6V676.88H479.87V769.6ZM479.87 769.6V676.88H483.11V769.6ZM483.11 769.6V676.88H486.35V769.6ZM486.35 769.6V676.88H489.59V769.6ZM489.59 769.6V676.88H492.83V769.6ZM492.83 769.6V676.88H496.07V769.6ZM496.08 769.6V676.88H499.32V769.6ZM499.32 769.6V676.88H502.56V769.6ZM502.56 769.6V676.88H505.8V769.6ZM505.8 769.6V676.88H509.04V769.6ZM509.04 769.6V676.88H512.28V769.6ZM512.28 769.6V676.88H515.53V769.6ZM515.53 769.6V676.88H518.77V769.6ZM518.77 769.6V676.88H522.01V769.6ZM522.01 769.6V676.88H525.25V769.6ZM525.25 769.6V676.88H528.5V769.6ZM528.5 769.6V676.88H531.74V769.6ZM531.74 769.6V676.88H534.98V769.6ZM534.98 769.6V676.88H538.22V769.6ZM538.22 769.6V676.88H541.46V769.6ZM541.46 769.6V676.88H544.7V769.6ZM544.71 769.6V676.88H547.95V769.6ZM547.95 769.6V676.88H551.19V769.6ZM551.19 769.6V676.88H554.43V769.6ZM554.43 769.6V676.88H557.67V769.6ZM557.67 769.6V676.88H560.91V769.6ZM560.91 769.6V676.88H564.16V769.6ZM564.16 769.6V676.88H567.4V769.6ZM567.4 769.6V680.54H570.64V769.6ZM570.64 769.6V680.54H573.88V769.6ZM573.88 769.6V676.88H577.12V769.6ZM577.12 769.6V676.88H580.37V769.6ZM580.37 769.6V676.88H583.61V769.6ZM583.61 769.6V676.88H586.85V769.6ZM586.85 769.6V676.88H590.09V769.6ZM590.09 769.6V676.88H593.33V769.6Z" fill="#fabc84" stroke="#f0822d" stroke-width="1.4"/>
<path d="M49.24 769.6V676.67H51.36V769.6M52.48 769.6V676.67H54.6V769.6M55.72 769.6V676.67H57.84V769.6M58.96 769.6V686.48H61.09V769.6M62.21 769.6V679.29H64.33V769.6M65.45 769.6V676.67H67.57V769.6M68.69 769.6V676.67H70.81V769.6M71.93 769.6V676.67H74.06V769.6M75.17 769.6V676.67H77.3V769.6M78.42 769.6V676.67H80.54V769.6M81.66 769.6V676.67H83.78V769.6M84.9 769.6V676.67H87.02V769.6M88.14 769.6V676.67H90.26V769.6M91.38 769.6V676.67H93.51V769.6M94.63 769.6V676.67H96.75V769.6M97.87 769.6V676.67H99.99V769.6M101.11 769.6V676.67H103.23V769.6M104.35 769.6V676.67H106.47V769.6M107.59 769.6V711.31H109.72V769.6M110.84 769.6V716.54H112.96V769.6M114.08 769.6V736.81H116.2V769.6M117.32 769.6V709.35H119.44V769.6M120.56 769.6V677.33H122.69V769.6M123.81 769.6V676.67H125.93V769.6M127.05 769.6V676.67H129.17V769.6M130.29 769.6V676.67H132.41V769.6M133.53 769.6V676.67H135.65V769.6M136.77 769.6V676.67H138.9V769.6M140.01 769.6V705.43H142.14V769.6M143.26 769.6V722.43H145.38V769.6M146.5 769.6V757.07H148.62V769.6M149.74 769.6V764.26H151.86V769.6M185.4 769.6V760.99H187.53V769.6M188.65 769.6V760.07H190.77V769.6M191.89 769.6V752.49H194.01V769.6M195.13 769.6V748.31H197.25V769.6M198.37 769.6V736.15H200.49V769.6M201.61 769.6V739.42H203.73V769.6M204.85 769.6V739.42H206.98V769.6M208.1 769.6V751.18H210.22V769.6M211.34 769.6V764.26H213.46V769.6M214.58 769.6V757.07H216.7V769.6M217.82 769.6V759.29H219.95V769.6M234.03 769.6V749.22H236.16V769.6M237.28 769.6V732.23H239.4V769.6M240.52 769.6V745.3H242.64V769.6M253.48 769.6V751.18H255.61V769.6M256.73 769.6V730.92H258.85V769.6M259.97 769.6V705.43H262.09V769.6M263.21 769.6V712.62H265.33V769.6M266.45 769.6V714.58H268.57V769.6M269.69 769.6V707.39H271.82V769.6M272.94 769.6V703.47H275.06V769.6M276.18 769.6V676.67H278.3V769.6M279.42 769.6V676.67H281.54V769.6M282.66 769.6V676.67H284.78V769.6M285.91 769.6V676.67H288.03V769.6M289.15 769.6V676.67H291.27V769.6M292.39 769.6V676.67H294.51V769.6M295.63 769.6V693.01H297.75V769.6M298.87 769.6V720.47H300.99V769.6M302.12 769.6V759.03H304.24V769.6M305.36 769.6V757.07H307.48V769.6M311.84 769.6V730.27H313.96V769.6M315.08 769.6V749.88H317.2V769.6M321.57 769.6V758.37H323.69V769.6M337.78 769.6V764.26H339.9V769.6M341.02 769.6V740.07H343.14V769.6M344.26 769.6V711.31H346.38V769.6M347.5 769.6V732.23H349.62V769.6M350.75 769.6V762.3H352.87V769.6M373.44 769.6V763.6H375.56V769.6M422.07 769.6V765.3H424.19V769.6M425.31 769.6V759.68H427.43V769.6M435.04 769.6V763.99H437.16V769.6M441.52 769.6V764.26H443.64V769.6M448.01 769.6V762.95H450.13V769.6M451.25 769.6V758.37H453.37V769.6M454.49 769.6V758.37H456.61V769.6M460.97 769.6V760.07H463.09V769.6M464.22 769.6V764.91H466.34V769.6M490.15 769.6V764.91H492.27V769.6M493.39 769.6V763.99H495.51V769.6M496.64 769.6V759.03H498.76V769.6M499.88 769.6V736.54H502V769.6M503.12 769.6V705.17H505.24V769.6M506.36 769.6V700.2H508.48V769.6M509.6 769.6V682.95H511.72V769.6M512.84 769.6V683.86H514.97V769.6M516.09 769.6V702.16H518.21V769.6M519.33 769.6V725.43H521.45V769.6M522.57 769.6V747.26H524.69V769.6M525.81 769.6V738.77H527.94V769.6M529.05 769.6V765.56H531.18V769.6M532.3 769.6V757.07H534.42V769.6M535.54 769.6V753.8H537.66V769.6M538.78 769.6V742.03H540.9V769.6M542.02 769.6V734.19H544.14V769.6M545.26 769.6V700.2H547.39V769.6M548.51 769.6V701.12H550.63V769.6M551.75 769.6V704.78H553.87V769.6M554.99 769.6V722.43H557.11V769.6M558.23 769.6V708.7H560.36V769.6M561.47 769.6V723.47H563.6V769.6M564.72 769.6V762.3H566.84V769.6M567.96 769.6V754.84H570.08V769.6M571.2 769.6V739.42H573.32V769.6M574.44 769.6V727.65H576.56V769.6M577.68 769.6V750.53H579.81V769.6M580.93 769.6V762.3H583.05V769.6M584.17 769.6V719.16H586.29V769.6M587.41 769.6V678.24H589.53V769.6M590.65 769.6V677.72H592.77V769.6" fill="none" stroke="#00dc00" stroke-width="1.12"/>
</g>
<g clip-path="url(#c5)">
<path d="M48.68 766.6V766.3H51.92V766.6ZM51.92 766.6V765.5H55.16V766.6ZM55.16 766.6V723.41H58.41V766.6ZM58.4 766.6V745.24H61.65V766.6ZM61.65 766.6V741.58H64.89V766.6ZM64.89 766.6V732.43H68.13V766.6ZM68.13 766.6V721.71H71.37V766.6ZM71.37 766.6V711.91H74.61V766.6ZM74.61 766.6V709.03H77.86V766.6ZM77.86 766.6V690.73H81.1V766.6ZM81.1 766.6V695.31H84.34V766.6ZM84.34 766.6V701.84H87.58V766.6ZM87.58 766.6V717.14H90.82V766.6ZM90.83 766.6V735.05H94.07V766.6ZM94.07 766.6V740.67H97.31V766.6ZM97.31 766.6V732.43H100.55V766.6ZM100.55 766.6V729.82H103.79V766.6ZM103.79 766.6V734.39H107.03V766.6ZM107.04 766.6V741.58H110.28V766.6ZM110.28 766.6V755.05H113.52V766.6ZM113.52 766.6V746.55H116.76V766.6ZM116.76 766.6V753.08H120V766.6ZM120 766.6V765.5H123.24V766.6ZM123.25 766.6V765.9H126.49V766.6ZM126.49 766.6V765.5H129.73V766.6ZM129.73 766.6V737.79H132.97V766.6ZM132.97 766.6V719.49H136.21V766.6ZM136.21 766.6V716.48H139.46V766.6ZM139.45 766.6V744.59H142.7V766.6ZM142.7 766.6V756.09H145.94V766.6ZM145.94 766.6V760.27H149.18V766.6ZM149.18 766.6V748.77H152.42V766.6ZM152.42 766.6V728.9H155.66V766.6ZM155.66 766.6V690.73H158.91V766.6ZM158.91 766.6V692.04H162.15V766.6ZM162.15 766.6V750.86H165.39V766.6ZM165.39 766.6V748.77H168.63V766.6ZM168.63 766.6V750.47H171.88V766.6ZM171.87 766.6V719.1H175.12V766.6ZM175.12 766.6V725.63H178.36V766.6ZM178.36 766.6V686.68H181.6V766.6ZM181.6 766.6V686.68H184.84V766.6ZM184.84 766.6V730.86H188.09V766.6ZM188.09 766.6V742.63H191.33V766.6ZM191.33 766.6V742.63H194.57V766.6ZM194.57 766.6V756.35H197.81V766.6ZM197.81 766.6V758.31H201.05V766.6ZM201.05 766.6V736.48H204.29V766.6ZM204.29 766.6V751.78H207.54V766.6ZM207.54 766.6V765.5H210.78V766.6ZM210.78 766.6V760.27H214.02V766.6ZM214.02 766.6V752.43H217.26V766.6ZM217.26 766.6V728.9H220.51V766.6ZM220.5 766.6V698.58H223.75V766.6ZM223.75 766.6V708.64H226.99V766.6ZM226.99 766.6V706.42H230.23V766.6ZM230.23 766.6V696.48H233.47V766.6ZM233.47 766.6V683.8H236.72V766.6ZM236.72 766.6V704.72H239.96V766.6ZM239.96 766.6V717.14H243.2V766.6ZM243.2 766.6V702.76H246.44V766.6ZM246.44 766.6V680.27H249.68V766.6ZM249.68 766.6V676.88H252.92V766.6ZM252.92 766.6V692.04H256.17V766.6ZM256.17 766.6V718.44H259.41V766.6ZM259.41 766.6V738.71H262.65V766.6ZM262.65 766.6V744.59H265.89V766.6ZM265.89 766.6V752.43H269.13V766.6ZM269.13 766.6V751.78H272.38V766.6ZM272.38 766.6V748.77H275.62V766.6ZM275.62 766.6V754.39H278.86V766.6ZM278.86 766.6V729.56H282.1V766.6ZM282.1 766.6V738.05H285.34V766.6ZM285.35 766.6V760.67H288.59V766.6ZM288.59 766.6V763.54H291.83V766.6ZM291.83 766.6V764.85H295.07V766.6ZM295.07 766.6V756.61H298.31V766.6ZM298.31 766.6V734.39H301.55V766.6ZM301.56 766.6V735.05H304.8V766.6ZM304.8 766.6V708.38H308.04V766.6ZM308.04 766.6V683.8H311.28V766.6ZM311.28 766.6V682.89H314.52V766.6ZM314.52 766.6V692.95H317.76V766.6ZM317.77 766.6V683.54H321.01V766.6ZM321.01 766.6V702.76H324.25V766.6ZM324.25 766.6V717.53H327.49V766.6ZM327.49 766.6V677.66H330.73V766.6ZM330.73 766.6V685.76H333.97V766.6ZM333.98 766.6V700.14H337.22V766.6ZM337.22 766.6V707.73H340.46V766.6ZM340.46 766.6V724.33H343.7V766.6ZM343.7 766.6V731.52H346.94V766.6ZM346.94 766.6V758.71H350.19V766.6ZM350.19 766.6V764.85H353.43V766.6ZM353.43 766.6V765.5H356.67V766.6ZM356.67 766.6V766.16H359.91V766.6ZM359.91 766.6V766.16H363.15V766.6ZM363.15 766.6V755.7H366.39V766.6ZM366.4 766.6V765.5H369.64V766.6ZM369.64 766.6V740.67H372.88V766.6ZM372.88 766.6V755.05H376.12V766.6ZM376.12 766.6V752.43H379.36V766.6ZM379.36 766.6V746.94H382.61V766.6ZM382.61 766.6V732.43H385.85V766.6ZM385.85 766.6V696.48H389.09V766.6ZM389.09 766.6V678.58H392.33V766.6ZM392.33 766.6V686.68H395.57V766.6ZM395.57 766.6V694.52H398.81V766.6ZM398.82 766.6V727.2H402.06V766.6ZM402.06 766.6V716.22H405.3V766.6ZM405.3 766.6V708.38H408.54V766.6ZM408.54 766.6V700.14H411.78V766.6ZM411.78 766.6V676.88H415.02V766.6ZM415.03 766.6V693.61H418.27V766.6ZM418.27 766.6V740.67H421.51V766.6ZM421.51 766.6V727.59H424.75V766.6ZM424.75 766.6V737.4H427.99V766.6ZM427.99 766.6V747.86H431.24V766.6ZM431.24 766.6V764.2H434.48V766.6ZM434.48 766.6V760.27H437.72V766.6ZM437.72 766.6V742.37H440.96V766.6ZM440.96 766.6V762.24H444.2V766.6ZM444.2 766.6V766.16H447.44V766.6ZM447.45 766.6V764.2H450.69V766.6ZM450.69 766.6V766.16H453.93V766.6ZM453.93 766.6V746.55H457.17V766.6ZM457.17 766.6V730.47H460.41V766.6ZM460.41 766.6V715.57H463.65V766.6ZM463.66 766.6V708.64H466.9V766.6ZM466.9 766.6V706.68H470.14V766.6ZM470.14 766.6V711.91H473.38V766.6ZM473.38 766.6V713.61H476.62V766.6ZM476.62 766.6V727.33H479.87V766.6ZM479.87 766.6V705.63H483.11V766.6ZM483.11 766.6V679.49H486.35V766.6ZM486.35 766.6V678.58H489.59V766.6ZM489.59 766.6V677.27H492.83V766.6ZM492.83 766.6V701.19H496.07V766.6ZM496.08 766.6V728.51H499.32V766.6ZM499.32 766.6V723.67H502.56V766.6ZM502.56 766.6V758.71H505.8V766.6ZM505.8 766.6V765.5H509.04V766.6ZM509.04 766.6V766.16H512.28V766.6ZM512.28 766.6V766.16H515.53V766.6ZM515.53 766.6V766.16H518.77V766.6ZM518.77 766.6V766.16H522.01V766.6ZM522.01 766.6V766.16H525.25V766.6ZM525.25 766.6V765.5H528.5V766.6ZM528.5 766.6V758.58H531.74V766.6ZM531.74 766.6V745.24H534.98V766.6ZM534.98 766.6V748.9H538.22V766.6ZM538.22 766.6V741.71H541.46V766.6ZM541.46 766.6V724.33H544.7V766.6ZM544.71 766.6V719.75H547.95V766.6ZM547.95 766.6V736.48H551.19V766.6ZM551.19 766.6V719.1H554.43V766.6ZM554.43 766.6V722.37H557.67V766.6ZM557.67 766.6V676.61H560.91V766.6ZM560.91 766.6V683.15H564.16V766.6ZM564.16 766.6V687.07H567.4V766.6ZM567.4 766.6V684.85H570.64V766.6ZM570.64 766.6V718.44H573.88V766.6ZM573.88 766.6V755.05H577.12V766.6ZM577.12 766.6V752.43H580.37V766.6ZM580.37 766.6V752.43H583.61V766.6ZM583.61 766.6V751.78H586.85V766.6ZM586.85 766.6V762.89H590.09V766.6ZM590.09 766.6V750.47H593.33V766.6Z" fill="none" stroke="#1e3cff" stroke-width="1.45"/>
</g>
<path d="M49.85 748.6H591.71M49.85 730.6H591.71M49.85 712.6H591.71M49.85 694.6H591.71M128.11 767.05V676.6M205.92 767.05V676.6M283.72 767.05V676.6M361.53 767.05V676.6M439.34 767.05V676.6M517.15 767.05V676.6" stroke="#a4a4a4" stroke-width="1.05" stroke-dasharray="1.9 4.58" fill="none"/>
<path d="M56.43 766.6H590.71M56.43 676.6H590.71M50.3 760.47V677.6" stroke="#d4d4d4" stroke-width="1.9" stroke-dasharray="1.5 4.98" fill="none"/>
<g fill="none">
<path d="M46.9 766.6H50.3M46.9 748.6H50.3M46.9 730.6H50.3M46.9 712.6H50.3M46.9 694.6H50.3M46.9 676.6H50.3M50.3 766.6V769.3M128.11 766.6V769.3M205.92 766.6V769.3M283.72 766.6V769.3M361.53 766.6V769.3M439.34 766.6V769.3M517.15 766.6V769.3" stroke="#000" stroke-width="1.2" fill="none"/>
<path d="M38.72 766.08 38.72 767.13 39.04 768.89 39.68 769.95 40.64 770.3 41.28 770.3 42.24 769.95 42.88 768.89 43.2 767.13 43.2 766.08 42.88 764.32 42.24 763.26 41.28 762.91 40.64 762.91 39.68 763.26 39.04 764.32 38.72 766.08" stroke="#000" stroke-width="1.4"/>
<path d="M32.64 746.67 32.64 746.32 32.96 745.61 33.28 745.26 33.92 744.91 35.2 744.91 35.84 745.26 36.16 745.61 36.48 746.32 36.48 747.02 36.16 747.72 35.52 748.78 32.32 752.3 36.8 752.3M38.72 748.08 38.72 749.13 39.04 750.89 39.68 751.95 40.64 752.3 41.28 752.3 42.24 751.95 42.88 750.89 43.2 749.13 43.2 748.08 42.88 746.32 42.24 745.26 41.28 744.91 40.64 744.91 39.68 745.26 39.04 746.32 38.72 748.08" stroke="#000" stroke-width="1.4"/>
<path d="M35.52 734.3 35.52 726.91 32.32 731.84 37.12 731.84M38.72 730.08 38.72 731.13 39.04 732.89 39.68 733.95 40.64 734.3 41.28 734.3 42.24 733.95 42.88 732.89 43.2 731.13 43.2 730.08 42.88 728.32 42.24 727.26 41.28 726.91 40.64 726.91 39.68 727.26 39.04 728.32 38.72 730.08" stroke="#000" stroke-width="1.4"/>
<path d="M36.48 709.96 36.16 709.26 35.2 708.91 34.56 708.91 33.6 709.26 32.96 710.32 32.64 712.08 32.64 713.84 32.96 715.24 33.6 715.95 34.56 716.3 34.88 716.3 35.84 715.95 36.48 715.24 36.8 714.19 36.8 713.84 36.48 712.78 35.84 712.08 34.88 711.72 34.56 711.72 33.6 712.08 32.96 712.78 32.64 713.84M38.72 712.08 38.72 713.13 39.04 714.89 39.68 715.95 40.64 716.3 41.28 716.3 42.24 715.95 42.88 714.89 43.2 713.13 43.2 712.08 42.88 710.32 42.24 709.26 41.28 708.91 40.64 708.91 39.68 709.26 39.04 710.32 38.72 712.08" stroke="#000" stroke-width="1.4"/>
<path d="M32.32 695.84 32.32 696.89 32.64 697.6 32.96 697.95 33.92 698.3 35.2 698.3 36.16 697.95 36.48 697.6 36.8 696.89 36.8 695.84 36.48 695.13 35.84 694.43 34.88 694.08 33.6 693.72 32.96 693.37 32.64 692.67 32.64 691.96 32.96 691.26 33.92 690.91 35.2 690.91 36.16 691.26 36.48 691.96 36.48 692.67 36.16 693.37 35.52 693.72 34.24 694.08 33.28 694.43 32.64 695.13 32.32 695.84M38.72 694.08 38.72 695.13 39.04 696.89 39.68 697.95 40.64 698.3 41.28 698.3 42.24 697.95 42.88 696.89 43.2 695.13 43.2 694.08 42.88 692.32 42.24 691.26 41.28 690.91 40.64 690.91 39.68 691.26 39.04 692.32 38.72 694.08" stroke="#000" stroke-width="1.4"/>
<path d="M26.88 674.32 27.52 673.96 28.48 672.91 28.48 680.3M32.32 676.08 32.32 677.13 32.64 678.89 33.28 679.95 34.24 680.3 34.88 680.3 35.84 679.95 36.48 678.89 36.8 677.13 36.8 676.08 36.48 674.32 35.84 673.26 34.88 672.91 34.24 672.91 33.28 673.26 32.64 674.32 32.32 676.08M38.72 676.08 38.72 677.13 39.04 678.89 39.68 679.95 40.64 680.3 41.28 680.3 42.24 679.95 42.88 678.89 43.2 677.13 43.2 676.08 42.88 674.32 42.24 673.26 41.28 672.91 40.64 672.91 39.68 673.26 39.04 674.32 38.72 676.08" stroke="#000" stroke-width="1.4"/>
<path d="M35.17 779.12 35.48 779.86 35.79 780.23 36.73 780.6 37.66 780.6 38.6 780.23 39.22 779.49 39.54 778.37 39.54 777.63 39.22 776.52 38.91 776.15 38.29 775.78 37.35 775.78 39.22 772.81 35.79 772.81M42.34 774.29 42.97 773.92 43.9 772.81 43.9 780.6M47.96 780.6 47.96 772.81 50.46 780.6 52.95 772.81 52.95 780.6M54.51 780.6 57.01 772.81 59.5 780.6M55.45 778 58.57 778M61.06 780.6 61.06 772.81 63.87 772.81 64.81 773.18 65.12 773.55 65.43 774.29 65.43 775.03 65.12 775.78 64.81 776.15 63.87 776.52 61.06 776.52M65.43 780.6 63.25 776.52" stroke="#000" stroke-width="1.4"/>
<path d="M117.03 774.29 117.66 773.92 118.59 772.81 118.59 780.6M121.71 780.6 124.21 772.81 126.7 780.6M122.65 778 125.77 778M128.26 780.6 128.26 772.81 131.07 772.81 132.01 773.18 132.32 773.55 132.63 774.29 132.63 775.41 132.32 776.15 132.01 776.52 131.07 776.89 128.26 776.89M134.82 780.6 134.82 772.81 137.62 772.81 138.56 773.18 138.87 773.55 139.18 774.29 139.18 775.03 138.87 775.78 138.56 776.15 137.62 776.52 134.82 776.52M139.18 780.6 137 776.52" stroke="#000" stroke-width="1.4"/>
<path d="M194.68 774.66 194.68 774.29 195 773.55 195.31 773.18 195.93 772.81 197.18 772.81 197.8 773.18 198.12 773.55 198.43 774.29 198.43 775.03 198.12 775.78 197.49 776.89 194.37 780.6 198.74 780.6M199.99 780.6 202.48 772.81 204.98 780.6M200.92 778 204.04 778M206.54 780.6 206.54 772.81 209.35 772.81 210.28 773.18 210.6 773.55 210.91 774.29 210.91 775.41 210.6 776.15 210.28 776.52 209.35 776.89 206.54 776.89M213.09 780.6 213.09 772.81 215.9 772.81 216.84 773.18 217.15 773.55 217.46 774.29 217.46 775.03 217.15 775.78 216.84 776.15 215.9 776.52 213.09 776.52M217.46 780.6 215.28 776.52" stroke="#000" stroke-width="1.4"/>
<path d="M272.18 779.12 272.49 779.86 272.8 780.23 273.74 780.6 274.68 780.6 275.61 780.23 276.24 779.49 276.55 778.37 276.55 777.63 276.24 776.52 275.92 776.15 275.3 775.78 274.36 775.78 276.24 772.81 272.8 772.81M277.8 780.6 280.29 772.81 282.79 780.6M278.73 778 281.85 778M284.35 780.6 284.35 772.81 287.16 772.81 288.09 773.18 288.4 773.55 288.72 774.29 288.72 775.41 288.4 776.15 288.09 776.52 287.16 776.89 284.35 776.89M290.9 780.6 290.9 772.81 293.71 772.81 294.64 773.18 294.96 773.55 295.27 774.29 295.27 775.03 294.96 775.78 294.64 776.15 293.71 776.52 290.9 776.52M295.27 780.6 293.08 776.52" stroke="#000" stroke-width="1.4"/>
<path d="M353.11 780.6 353.11 772.81 349.99 778 354.67 778M355.6 780.6 358.1 772.81 360.6 780.6M356.54 778 359.66 778M362.16 780.6 362.16 772.81 364.96 772.81 365.9 773.18 366.21 773.55 366.52 774.29 366.52 775.41 366.21 776.15 365.9 776.52 364.96 776.89 362.16 776.89M368.71 780.6 368.71 772.81 371.52 772.81 372.45 773.18 372.76 773.55 373.08 774.29 373.08 775.03 372.76 775.78 372.45 776.15 371.52 776.52 368.71 776.52M373.08 780.6 370.89 776.52" stroke="#000" stroke-width="1.4"/>
<path d="M427.8 779.12 428.11 779.86 428.42 780.23 429.36 780.6 430.29 780.6 431.23 780.23 431.85 779.49 432.16 778.37 432.16 777.63 431.85 776.52 431.23 775.78 430.29 775.41 429.36 775.41 428.42 775.78 428.11 776.15 428.42 772.81 431.54 772.81M433.41 780.6 435.91 772.81 438.4 780.6M434.35 778 437.47 778M439.96 780.6 439.96 772.81 442.77 772.81 443.71 773.18 444.02 773.55 444.33 774.29 444.33 775.41 444.02 776.15 443.71 776.52 442.77 776.89 439.96 776.89M446.52 780.6 446.52 772.81 449.32 772.81 450.26 773.18 450.57 773.55 450.88 774.29 450.88 775.03 450.57 775.78 450.26 776.15 449.32 776.52 446.52 776.52M450.88 780.6 448.7 776.52" stroke="#000" stroke-width="1.4"/>
<path d="M509.5 773.92 509.19 773.18 508.26 772.81 507.63 772.81 506.7 773.18 506.07 774.29 505.76 776.15 505.76 778 506.07 779.49 506.7 780.23 507.63 780.6 507.94 780.6 508.88 780.23 509.5 779.49 509.82 778.37 509.82 778 509.5 776.89 508.88 776.15 507.94 775.78 507.63 775.78 506.7 776.15 506.07 776.89 505.76 778M511.06 780.6 513.56 772.81 516.06 780.6M512 778 515.12 778M517.62 780.6 517.62 772.81 520.42 772.81 521.36 773.18 521.67 773.55 521.98 774.29 521.98 775.41 521.67 776.15 521.36 776.52 520.42 776.89 517.62 776.89M524.17 780.6 524.17 772.81 526.98 772.81 527.91 773.18 528.22 773.55 528.54 774.29 528.54 775.03 528.22 775.78 527.91 776.15 526.98 776.52 524.17 776.52M528.54 780.6 526.35 776.52" stroke="#000" stroke-width="1.4"/>
<path d="M39.07 785.36 39.07 784.99 39.38 784.25 39.69 783.88 40.32 783.51 41.56 783.51 42.19 783.88 42.5 784.25 42.81 784.99 42.81 785.74 42.5 786.48 41.88 787.59 38.76 791.3 43.12 791.3M45 786.85 45 787.96 45.31 789.82 45.93 790.93 46.87 791.3 47.49 791.3 48.43 790.93 49.05 789.82 49.36 787.96 49.36 786.85 49.05 784.99 48.43 783.88 47.49 783.51 46.87 783.51 45.93 783.88 45.31 784.99 45 786.85M51.55 785.36 51.55 784.99 51.86 784.25 52.17 783.88 52.8 783.51 54.04 783.51 54.67 783.88 54.98 784.25 55.29 784.99 55.29 785.74 54.98 786.48 54.36 787.59 51.24 791.3 55.6 791.3M61.53 784.62 61.22 783.88 60.28 783.51 59.66 783.51 58.72 783.88 58.1 784.99 57.79 786.85 57.79 788.7 58.1 790.19 58.72 790.93 59.66 791.3 59.97 791.3 60.91 790.93 61.53 790.19 61.84 789.07 61.84 788.7 61.53 787.59 60.91 786.85 59.97 786.48 59.66 786.48 58.72 786.85 58.1 787.59 57.79 788.7" stroke="#000" stroke-width="1.4"/>
</g>
<g fill="none" stroke-linecap="round" stroke-linejoin="round">
<rect x="252" y="662.4" width="6.8" height="10.8" stroke="#1e3cff" stroke-width="1.0"/>
<path d="M265.3 666.3 265.3 674M270.12 674 270.12 668.5 269.68 666.85 268.8 666.3 267.49 666.3 266.61 666.85 265.3 668.5M273.62 666.3 273.62 671.8 274.06 673.45 274.94 674 276.25 674 277.13 673.45 278.44 671.8 278.44 666.3M278.44 674 278.44 671.8M281.07 666.3 283.7 674 286.32 666.3M293.77 672.35 292.89 673.45 292.02 674 290.7 674 289.83 673.45 288.95 672.35 288.51 670.7 288.51 669.6 288.95 667.95 289.83 666.85 290.7 666.3 292.02 666.3 292.89 666.85 293.33 667.4 293.77 668.5 293.77 669.6 288.51 669.6M296.84 666.3 296.84 674M301.65 674 301.65 668.5 301.22 666.85 300.34 666.3 299.03 666.3 298.15 666.85 296.84 668.5M304.72 672.35 305.16 673.45 306.47 674 307.79 674 309.1 673.45 309.54 672.35 309.54 671.8 309.1 670.7 308.22 670.15 306.03 669.6 305.16 669.05 304.72 667.95 305.16 666.85 306.47 666.3 307.79 666.3 309.1 666.85 309.54 667.95M319.61 662.45 319.61 674M319.61 667.95 320.49 666.85 321.36 666.3 322.68 666.3 323.55 666.85 324.43 667.95 324.87 669.6 324.87 670.7 324.43 672.35 323.55 673.45 322.68 674 321.36 674 320.49 673.45 319.61 672.35M332.75 666.3 332.75 674M327.5 669.6 327.5 670.7 327.93 672.35 328.81 673.45 329.69 674 331 674 331.88 673.45 332.75 672.35M327.5 669.6 327.93 667.95 328.81 666.85 329.69 666.3 331 666.3 331.88 666.85 332.75 667.95M336.26 666.3 336.26 674M335.82 662.45 336.26 661.9 336.69 662.45 336.26 663 335.82 662.45M339.32 666.3 344.14 674M339.32 674 344.14 666.3M352.02 666.3 352.02 674M346.77 669.6 346.77 670.7 347.21 672.35 348.08 673.45 348.96 674 350.27 674 351.15 673.45 352.02 672.35M346.77 669.6 347.21 667.95 348.08 666.85 348.96 666.3 350.27 666.3 351.15 666.85 352.02 667.95M355.09 672.35 355.53 673.45 356.84 674 358.16 674 359.47 673.45 359.91 672.35 359.91 671.8 359.47 670.7 358.59 670.15 356.4 669.6 355.53 669.05 355.09 667.95 355.53 666.85 356.84 666.3 358.16 666.3 359.47 666.85 359.91 667.95" stroke="#1e3cff" stroke-width="1.6"/>
<rect x="372.5" y="662.5" width="5.7" height="10.6" stroke="#00dc00" stroke-width="1.3"/>
<path d="M383.6 666.3 383.6 674M388.42 674 388.42 668.5 387.98 666.85 387.1 666.3 385.79 666.3 384.91 666.85 383.6 668.5M391.92 666.3 391.92 671.8 392.36 673.45 393.24 674 394.55 674 395.43 673.45 396.74 671.8 396.74 666.3M396.74 674 396.74 671.8M399.37 666.3 402 674 404.62 666.3M412.07 672.35 411.19 673.45 410.32 674 409 674 408.13 673.45 407.25 672.35 406.81 670.7 406.81 669.6 407.25 667.95 408.13 666.85 409 666.3 410.32 666.3 411.19 666.85 411.63 667.4 412.07 668.5 412.07 669.6 406.81 669.6M415.14 666.3 415.14 674M419.95 674 419.95 668.5 419.52 666.85 418.64 666.3 417.33 666.3 416.45 666.85 415.14 668.5M423.02 672.35 423.46 673.45 424.77 674 426.09 674 427.4 673.45 427.84 672.35 427.84 671.8 427.4 670.7 426.52 670.15 424.33 669.6 423.46 669.05 423.02 667.95 423.46 666.85 424.77 666.3 426.09 666.3 427.4 666.85 427.84 667.95M437.91 666.3 437.91 674M442.73 674 442.73 668.5 442.29 666.85 441.42 666.3 440.1 666.3 439.23 666.85 437.91 668.5M447.55 674 447.55 668.5 447.11 666.85 446.23 666.3 444.92 666.3 444.04 666.85 442.73 668.5M455.87 672.35 454.99 673.45 454.12 674 452.8 674 451.93 673.45 451.05 672.35 450.61 670.7 450.61 669.6 451.05 667.95 451.93 666.85 452.8 666.3 454.12 666.3 454.99 666.85 455.43 667.4 455.87 668.5 455.87 669.6 450.61 669.6M463.75 662.45 463.75 674M458.5 669.6 458.5 670.7 458.94 672.35 459.81 673.45 460.69 674 462 674 462.88 673.45 463.75 672.35M458.5 669.6 458.94 667.95 459.81 666.85 460.69 666.3 462 666.3 462.88 666.85 463.75 667.95M467.26 666.3 467.26 674M466.82 662.45 467.26 661.9 467.7 662.45 467.26 663 466.82 662.45M475.58 666.3 475.58 674M470.32 669.6 470.32 670.7 470.76 672.35 471.64 673.45 472.51 674 473.83 674 474.7 673.45 475.58 672.35M470.32 669.6 470.76 667.95 471.64 666.85 472.51 666.3 473.83 666.3 474.7 666.85 475.58 667.95M478.65 672.35 479.08 673.45 480.4 674 481.71 674 483.03 673.45 483.46 672.35 483.46 671.8 483.03 670.7 482.15 670.15 479.96 669.6 479.08 669.05 478.65 667.95 479.08 666.85 480.4 666.3 481.71 666.3 483.03 666.85 483.46 667.95" stroke="#00dc00" stroke-width="1.6"/>
<rect x="493" y="662.6" width="5.3" height="10.4" stroke="#f0822d" stroke-width="1.0" fill="#fff6ee"/>
<path d="M502.4 666.3 502.4 674M507.22 674 507.22 668.5 506.78 666.85 505.9 666.3 504.59 666.3 503.71 666.85 502.4 668.5M510.72 666.3 510.72 671.8 511.16 673.45 512.04 674 513.35 674 514.23 673.45 515.54 671.8 515.54 666.3M515.54 674 515.54 671.8M518.17 666.3 520.8 674 523.42 666.3M530.87 672.35 529.99 673.45 529.12 674 527.8 674 526.93 673.45 526.05 672.35 525.61 670.7 525.61 669.6 526.05 667.95 526.93 666.85 527.8 666.3 529.12 666.3 529.99 666.85 530.43 667.4 530.87 668.5 530.87 669.6 525.61 669.6M533.94 666.3 533.94 674M538.75 674 538.75 668.5 538.32 666.85 537.44 666.3 536.13 666.3 535.25 666.85 533.94 668.5M541.82 672.35 542.26 673.45 543.57 674 544.89 674 546.2 673.45 546.64 672.35 546.64 671.8 546.2 670.7 545.32 670.15 543.13 669.6 542.26 669.05 541.82 667.95 542.26 666.85 543.57 666.3 544.89 666.3 546.2 666.85 546.64 667.95M561.53 666.3 561.53 674M556.27 669.6 556.27 670.7 556.71 672.35 557.59 673.45 558.46 674 559.78 674 560.65 673.45 561.53 672.35M556.27 669.6 556.71 667.95 557.59 666.85 558.46 666.3 559.78 666.3 560.65 666.85 561.53 667.95M565.03 662.45 565.03 674M567.66 666.3 570.73 666.3M568.98 662.45 568.98 671.8 569.41 673.45 570.29 674 571.17 674M578.61 666.3 578.61 674M573.36 669.6 573.36 670.7 573.79 672.35 574.67 673.45 575.55 674 576.86 674 577.74 673.45 578.61 672.35M573.36 669.6 573.79 667.95 574.67 666.85 575.55 666.3 576.86 666.3 577.74 666.85 578.61 667.95M581.68 672.35 582.12 673.45 583.43 674 584.74 674 586.06 673.45 586.5 672.35 586.5 671.8 586.06 670.7 585.18 670.15 582.99 669.6 582.12 669.05 581.68 667.95 582.12 666.85 583.43 666.3 584.74 666.3 586.06 666.85 586.5 667.95" stroke="#f0822d" stroke-width="1.6"/>
</g>
</svg></body></html>
